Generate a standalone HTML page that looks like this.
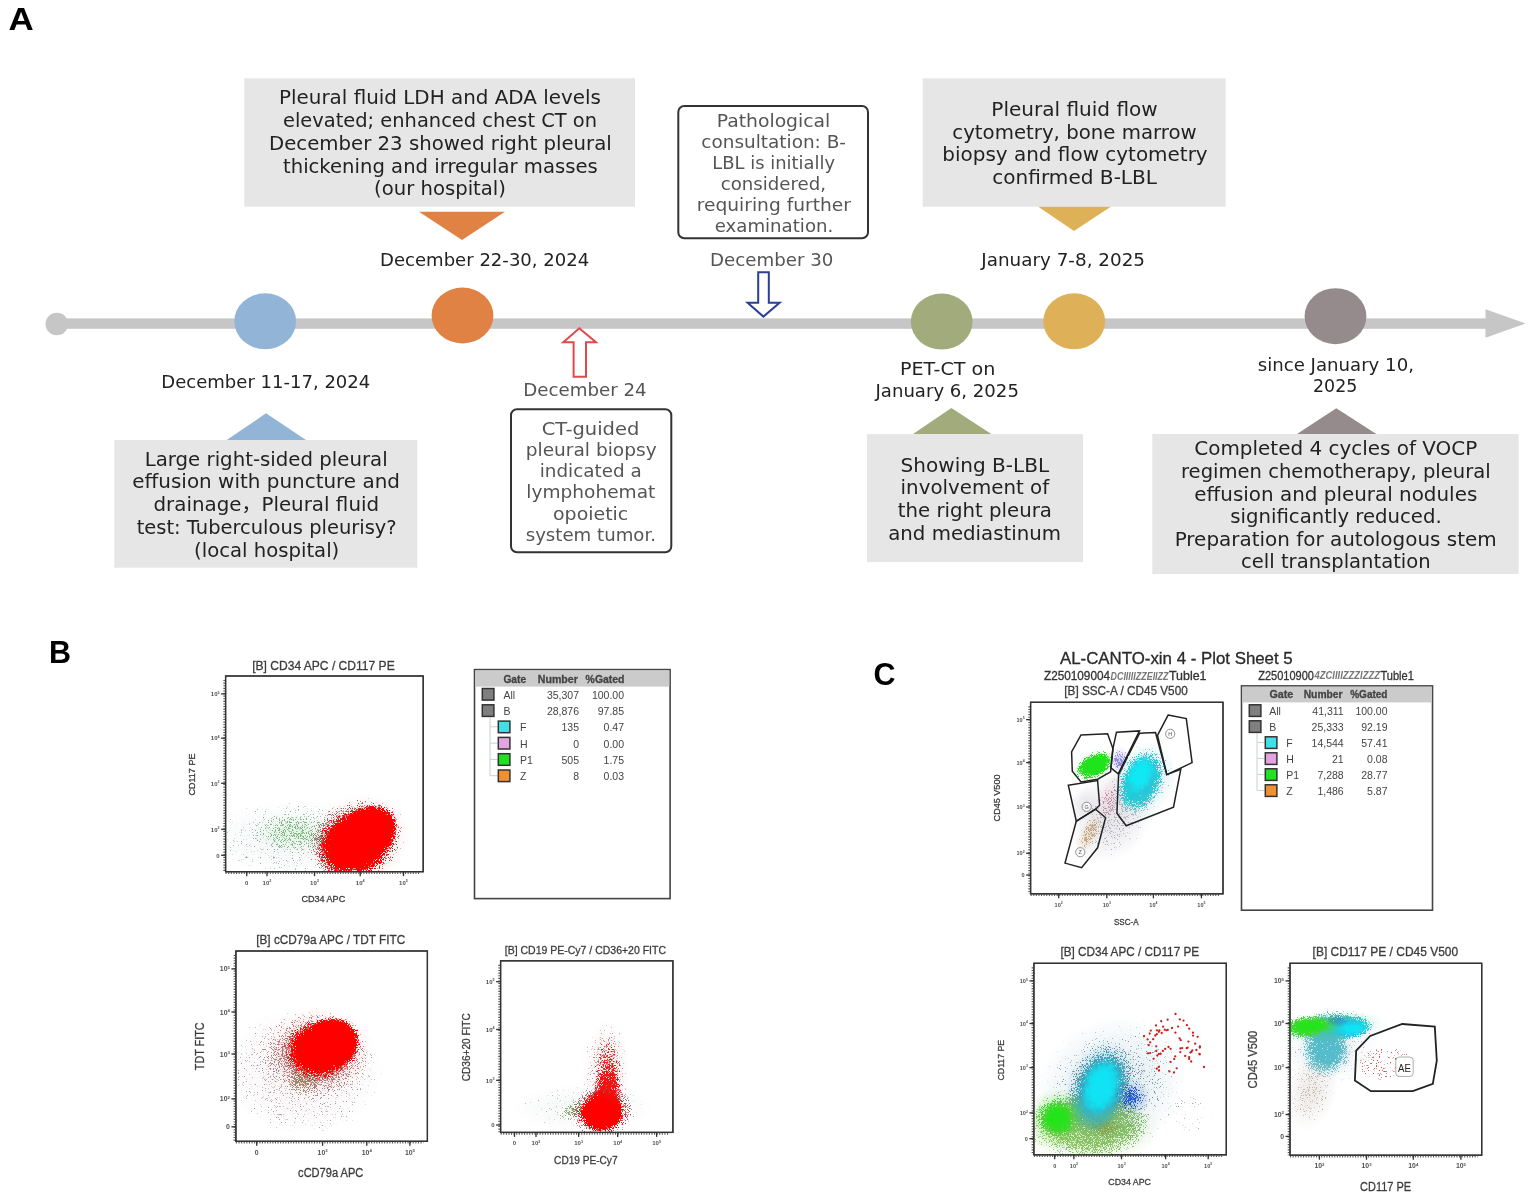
<!DOCTYPE html>
<html lang="en"><head><meta charset="utf-8"><title>Figure</title>
<style>
html,body{margin:0;padding:0;background:#fff}
svg{display:block;font-family:'DejaVu Sans','Liberation Sans','Noto Sans CJK SC',sans-serif;filter:blur(0.3px)}
</style></head><body>
<svg width="1535" height="1202" viewBox="0 0 1535 1202">
<defs>
<radialGradient id="g0"><stop offset="0" stop-color="#d0d8dc" stop-opacity="0.440"/><stop offset="0.3" stop-color="#d0d8dc" stop-opacity="0.440"/><stop offset="0.7" stop-color="#d0d8dc" stop-opacity="0.220"/><stop offset="1" stop-color="#d0d8dc" stop-opacity="0"/></radialGradient>
<radialGradient id="g1"><stop offset="0" stop-color="#a8dca8" stop-opacity="0.440"/><stop offset="0.3" stop-color="#a8dca8" stop-opacity="0.440"/><stop offset="0.7" stop-color="#a8dca8" stop-opacity="0.220"/><stop offset="1" stop-color="#a8dca8" stop-opacity="0"/></radialGradient>
<radialGradient id="g2"><stop offset="0" stop-color="#f0a8a8" stop-opacity="0.495"/><stop offset="0.6" stop-color="#f0a8a8" stop-opacity="0.495"/><stop offset="0.8" stop-color="#f0a8a8" stop-opacity="0.248"/><stop offset="1" stop-color="#f0a8a8" stop-opacity="0"/></radialGradient>
<radialGradient id="g3"><stop offset="0" stop-color="#9aa4ac" stop-opacity="0.110"/><stop offset="0.5" stop-color="#9aa4ac" stop-opacity="0.110"/><stop offset="0.8" stop-color="#9aa4ac" stop-opacity="0.088"/><stop offset="1" stop-color="#9aa4ac" stop-opacity="0"/></radialGradient>
<radialGradient id="g4"><stop offset="0" stop-color="#5fbf5f" stop-opacity="0.149"/><stop offset="0.3" stop-color="#5fbf5f" stop-opacity="0.149"/><stop offset="0.72" stop-color="#5fbf5f" stop-opacity="0.074"/><stop offset="1" stop-color="#5fbf5f" stop-opacity="0"/></radialGradient>
<radialGradient id="g5"><stop offset="0" stop-color="#8a3838" stop-opacity="0.198"/><stop offset="0.55" stop-color="#8a3838" stop-opacity="0.198"/><stop offset="0.8" stop-color="#8a3838" stop-opacity="0.158"/><stop offset="1" stop-color="#8a3838" stop-opacity="0"/></radialGradient>
<radialGradient id="g6"><stop offset="0" stop-color="#ff0000"/><stop offset="0.6" stop-color="#ff0000"/><stop offset="0.601" stop-color="#ff0000" stop-opacity="0.5"/><stop offset="0.8" stop-color="#ff0000" stop-opacity="0.250"/><stop offset="1" stop-color="#ff0000" stop-opacity="0"/></radialGradient>
<radialGradient id="g7"><stop offset="0" stop-color="#d8c4c8" stop-opacity="0.495"/><stop offset="0.2" stop-color="#d8c4c8" stop-opacity="0.495"/><stop offset="0.6" stop-color="#d8c4c8" stop-opacity="0.248"/><stop offset="1" stop-color="#d8c4c8" stop-opacity="0"/></radialGradient>
<radialGradient id="g8"><stop offset="0" stop-color="#f0a0a0" stop-opacity="0.495"/><stop offset="0.5" stop-color="#f0a0a0" stop-opacity="0.495"/><stop offset="0.75" stop-color="#f0a0a0" stop-opacity="0.248"/><stop offset="1" stop-color="#f0a0a0" stop-opacity="0"/></radialGradient>
<radialGradient id="g9"><stop offset="0" stop-color="#a8989c" stop-opacity="0.138"/><stop offset="0.4" stop-color="#a8989c" stop-opacity="0.138"/><stop offset="0.8" stop-color="#a8989c" stop-opacity="0.096"/><stop offset="1" stop-color="#a8989c" stop-opacity="0"/></radialGradient>
<radialGradient id="g10"><stop offset="0" stop-color="#b85858" stop-opacity="0.193"/><stop offset="0.5" stop-color="#b85858" stop-opacity="0.193"/><stop offset="0.72" stop-color="#b85858" stop-opacity="0.096"/><stop offset="1" stop-color="#b85858" stop-opacity="0"/></radialGradient>
<radialGradient id="g11"><stop offset="0" stop-color="#7a9440" stop-opacity="0.110"/><stop offset="0.3" stop-color="#7a9440" stop-opacity="0.110"/><stop offset="0.72" stop-color="#7a9440" stop-opacity="0.055"/><stop offset="1" stop-color="#7a9440" stop-opacity="0"/></radialGradient>
<radialGradient id="g12"><stop offset="0" stop-color="#ff0000"/><stop offset="0.58" stop-color="#ff0000"/><stop offset="0.581" stop-color="#ff0000" stop-opacity="0.5"/><stop offset="0.8" stop-color="#ff0000" stop-opacity="0.250"/><stop offset="1" stop-color="#ff0000" stop-opacity="0"/></radialGradient>
<radialGradient id="g13"><stop offset="0" stop-color="#d4d8dc" stop-opacity="0.440"/><stop offset="0.3" stop-color="#d4d8dc" stop-opacity="0.440"/><stop offset="0.7" stop-color="#d4d8dc" stop-opacity="0.220"/><stop offset="1" stop-color="#d4d8dc" stop-opacity="0"/></radialGradient>
<radialGradient id="g14"><stop offset="0" stop-color="#e8b8b8" stop-opacity="0.495"/><stop offset="0.4" stop-color="#e8b8b8" stop-opacity="0.495"/><stop offset="0.7" stop-color="#e8b8b8" stop-opacity="0.248"/><stop offset="1" stop-color="#e8b8b8" stop-opacity="0"/></radialGradient>
<radialGradient id="g15"><stop offset="0" stop-color="#a4a8b0" stop-opacity="0.088"/><stop offset="0.4" stop-color="#a4a8b0" stop-opacity="0.088"/><stop offset="0.8" stop-color="#a4a8b0" stop-opacity="0.062"/><stop offset="1" stop-color="#a4a8b0" stop-opacity="0"/></radialGradient>
<radialGradient id="g16"><stop offset="0" stop-color="#a88c8c" stop-opacity="0.187"/><stop offset="0.45" stop-color="#a88c8c" stop-opacity="0.187"/><stop offset="0.72" stop-color="#a88c8c" stop-opacity="0.094"/><stop offset="1" stop-color="#a88c8c" stop-opacity="0"/></radialGradient>
<radialGradient id="g17"><stop offset="0" stop-color="#70a850" stop-opacity="0.165"/><stop offset="0.3" stop-color="#70a850" stop-opacity="0.165"/><stop offset="0.72" stop-color="#70a850" stop-opacity="0.083"/><stop offset="1" stop-color="#70a850" stop-opacity="0"/></radialGradient>
<radialGradient id="g18"><stop offset="0" stop-color="#903030" stop-opacity="0.165"/><stop offset="0.55" stop-color="#903030" stop-opacity="0.165"/><stop offset="0.8" stop-color="#903030" stop-opacity="0.132"/><stop offset="1" stop-color="#903030" stop-opacity="0"/></radialGradient>
<radialGradient id="g19"><stop offset="0" stop-color="#f01818" stop-opacity="0.286"/><stop offset="0.35" stop-color="#f01818" stop-opacity="0.286"/><stop offset="0.72" stop-color="#f01818" stop-opacity="0.129"/><stop offset="1" stop-color="#f01818" stop-opacity="0"/></radialGradient>
<radialGradient id="g20"><stop offset="0" stop-color="#fa0808" stop-opacity="0.231"/><stop offset="0.5" stop-color="#fa0808" stop-opacity="0.231"/><stop offset="0.8" stop-color="#fa0808" stop-opacity="0.127"/><stop offset="1" stop-color="#fa0808" stop-opacity="0"/></radialGradient>
<radialGradient id="g21"><stop offset="0" stop-color="#b8b8c8" stop-opacity="0.544"/><stop offset="0.25" stop-color="#b8b8c8" stop-opacity="0.544"/><stop offset="0.65" stop-color="#b8b8c8" stop-opacity="0.272"/><stop offset="1" stop-color="#b8b8c8" stop-opacity="0"/></radialGradient>
<radialGradient id="g22"><stop offset="0" stop-color="#c4c4cc" stop-opacity="0.440"/><stop offset="0.3" stop-color="#c4c4cc" stop-opacity="0.440"/><stop offset="0.7" stop-color="#c4c4cc" stop-opacity="0.220"/><stop offset="1" stop-color="#c4c4cc" stop-opacity="0"/></radialGradient>
<radialGradient id="g23"><stop offset="0" stop-color="#70c8d4" stop-opacity="0.544"/><stop offset="0.3" stop-color="#70c8d4" stop-opacity="0.544"/><stop offset="0.65" stop-color="#70c8d4" stop-opacity="0.272"/><stop offset="1" stop-color="#70c8d4" stop-opacity="0"/></radialGradient>
<radialGradient id="g24"><stop offset="0" stop-color="#d8b890" stop-opacity="0.544"/><stop offset="0.3" stop-color="#d8b890" stop-opacity="0.544"/><stop offset="0.65" stop-color="#d8b890" stop-opacity="0.272"/><stop offset="1" stop-color="#d8b890" stop-opacity="0"/></radialGradient>
<radialGradient id="g25"><stop offset="0" stop-color="#e8a8b8" stop-opacity="0.385"/><stop offset="0.3" stop-color="#e8a8b8" stop-opacity="0.385"/><stop offset="0.65" stop-color="#e8a8b8" stop-opacity="0.193"/><stop offset="1" stop-color="#e8a8b8" stop-opacity="0"/></radialGradient>
<radialGradient id="g26"><stop offset="0" stop-color="#a8a0e8" stop-opacity="0.544"/><stop offset="0.3" stop-color="#a8a0e8" stop-opacity="0.544"/><stop offset="0.65" stop-color="#a8a0e8" stop-opacity="0.272"/><stop offset="1" stop-color="#a8a0e8" stop-opacity="0"/></radialGradient>
<radialGradient id="g27"><stop offset="0" stop-color="#60e060" stop-opacity="0.495"/><stop offset="0.3" stop-color="#60e060" stop-opacity="0.495"/><stop offset="0.65" stop-color="#60e060" stop-opacity="0.248"/><stop offset="1" stop-color="#60e060" stop-opacity="0"/></radialGradient>
<radialGradient id="g28"><stop offset="0" stop-color="#b0b0b8" stop-opacity="0.198"/><stop offset="0.3" stop-color="#b0b0b8" stop-opacity="0.198"/><stop offset="0.7" stop-color="#b0b0b8" stop-opacity="0.099"/><stop offset="1" stop-color="#b0b0b8" stop-opacity="0"/></radialGradient>
<radialGradient id="g29"><stop offset="0" stop-color="#78b8c4" stop-opacity="0.242"/><stop offset="0.45" stop-color="#78b8c4" stop-opacity="0.242"/><stop offset="0.72" stop-color="#78b8c4" stop-opacity="0.121"/><stop offset="1" stop-color="#78b8c4" stop-opacity="0"/></radialGradient>
<radialGradient id="g30"><stop offset="0" stop-color="#c84868" stop-opacity="0.072"/><stop offset="0.5" stop-color="#c84868" stop-opacity="0.072"/><stop offset="0.72" stop-color="#c84868" stop-opacity="0.036"/><stop offset="1" stop-color="#c84868" stop-opacity="0"/></radialGradient>
<radialGradient id="g31"><stop offset="0" stop-color="#c8a070" stop-opacity="0.209"/><stop offset="0.4" stop-color="#c8a070" stop-opacity="0.209"/><stop offset="0.72" stop-color="#c8a070" stop-opacity="0.105"/><stop offset="1" stop-color="#c8a070" stop-opacity="0"/></radialGradient>
<radialGradient id="g32"><stop offset="0" stop-color="#9088e0" stop-opacity="0.303"/><stop offset="0.35" stop-color="#9088e0" stop-opacity="0.303"/><stop offset="0.72" stop-color="#9088e0" stop-opacity="0.151"/><stop offset="1" stop-color="#9088e0" stop-opacity="0"/></radialGradient>
<radialGradient id="g33"><stop offset="0" stop-color="#28c8d8" stop-opacity="0.522"/><stop offset="0.45" stop-color="#28c8d8" stop-opacity="0.522"/><stop offset="0.75" stop-color="#28c8d8" stop-opacity="0.261"/><stop offset="1" stop-color="#28c8d8" stop-opacity="0"/></radialGradient>
<radialGradient id="g34"><stop offset="0" stop-color="#30d82c" stop-opacity="0.522"/><stop offset="0.45" stop-color="#30d82c" stop-opacity="0.522"/><stop offset="0.78" stop-color="#30d82c" stop-opacity="0.261"/><stop offset="1" stop-color="#30d82c" stop-opacity="0"/></radialGradient>
<radialGradient id="g35"><stop offset="0" stop-color="#10e8f4"/><stop offset="0.35" stop-color="#10e8f4"/><stop offset="0.351" stop-color="#10e8f4" stop-opacity="0.5"/><stop offset="0.7" stop-color="#10e8f4" stop-opacity="0.250"/><stop offset="1" stop-color="#10e8f4" stop-opacity="0"/></radialGradient>
<radialGradient id="g36"><stop offset="0" stop-color="#1ee41a"/><stop offset="0.5" stop-color="#1ee41a"/><stop offset="0.501" stop-color="#1ee41a" stop-opacity="0.5"/><stop offset="0.8" stop-color="#1ee41a" stop-opacity="0.250"/><stop offset="1" stop-color="#1ee41a" stop-opacity="0"/></radialGradient>
<radialGradient id="g37"><stop offset="0" stop-color="#88b0c0" stop-opacity="0.440"/><stop offset="0.2" stop-color="#88b0c0" stop-opacity="0.440"/><stop offset="0.6" stop-color="#88b0c0" stop-opacity="0.220"/><stop offset="1" stop-color="#88b0c0" stop-opacity="0"/></radialGradient>
<radialGradient id="g38"><stop offset="0" stop-color="#a4d880" stop-opacity="0.544"/><stop offset="0.4" stop-color="#a4d880" stop-opacity="0.544"/><stop offset="0.7" stop-color="#a4d880" stop-opacity="0.272"/><stop offset="1" stop-color="#a4d880" stop-opacity="0"/></radialGradient>
<radialGradient id="g39"><stop offset="0" stop-color="#50b8d0" stop-opacity="0.544"/><stop offset="0.4" stop-color="#50b8d0" stop-opacity="0.544"/><stop offset="0.7" stop-color="#50b8d0" stop-opacity="0.272"/><stop offset="1" stop-color="#50b8d0" stop-opacity="0"/></radialGradient>
<radialGradient id="g40"><stop offset="0" stop-color="#60e048" stop-opacity="0.544"/><stop offset="0.4" stop-color="#60e048" stop-opacity="0.544"/><stop offset="0.7" stop-color="#60e048" stop-opacity="0.272"/><stop offset="1" stop-color="#60e048" stop-opacity="0"/></radialGradient>
<radialGradient id="g41"><stop offset="0" stop-color="#5080e0" stop-opacity="0.544"/><stop offset="0.3" stop-color="#5080e0" stop-opacity="0.544"/><stop offset="0.65" stop-color="#5080e0" stop-opacity="0.272"/><stop offset="1" stop-color="#5080e0" stop-opacity="0"/></radialGradient>
<radialGradient id="g42"><stop offset="0" stop-color="#6090a4" stop-opacity="0.187"/><stop offset="0.3" stop-color="#6090a4" stop-opacity="0.187"/><stop offset="0.7" stop-color="#6090a4" stop-opacity="0.094"/><stop offset="1" stop-color="#6090a4" stop-opacity="0"/></radialGradient>
<radialGradient id="g43"><stop offset="0" stop-color="#a0a8b0" stop-opacity="0.088"/><stop offset="0.5" stop-color="#a0a8b0" stop-opacity="0.088"/><stop offset="0.72" stop-color="#a0a8b0" stop-opacity="0.044"/><stop offset="1" stop-color="#a0a8b0" stop-opacity="0"/></radialGradient>
<radialGradient id="g44"><stop offset="0" stop-color="#8cc858" stop-opacity="0.330"/><stop offset="0.5" stop-color="#8cc858" stop-opacity="0.330"/><stop offset="0.8" stop-color="#8cc858" stop-opacity="0.165"/><stop offset="1" stop-color="#8cc858" stop-opacity="0"/></radialGradient>
<radialGradient id="g45"><stop offset="0" stop-color="#3c98b0" stop-opacity="0.303"/><stop offset="0.5" stop-color="#3c98b0" stop-opacity="0.303"/><stop offset="0.72" stop-color="#3c98b0" stop-opacity="0.151"/><stop offset="1" stop-color="#3c98b0" stop-opacity="0"/></radialGradient>
<radialGradient id="g46"><stop offset="0" stop-color="#8c9c48" stop-opacity="0.275"/><stop offset="0.3" stop-color="#8c9c48" stop-opacity="0.275"/><stop offset="0.72" stop-color="#8c9c48" stop-opacity="0.138"/><stop offset="1" stop-color="#8c9c48" stop-opacity="0"/></radialGradient>
<radialGradient id="g47"><stop offset="0" stop-color="#48d434" stop-opacity="0.468"/><stop offset="0.35" stop-color="#48d434" stop-opacity="0.468"/><stop offset="0.7" stop-color="#48d434" stop-opacity="0.234"/><stop offset="1" stop-color="#48d434" stop-opacity="0"/></radialGradient>
<radialGradient id="g48"><stop offset="0" stop-color="#28b8d0" stop-opacity="0.495"/><stop offset="0.4" stop-color="#28b8d0" stop-opacity="0.495"/><stop offset="0.75" stop-color="#28b8d0" stop-opacity="0.248"/><stop offset="1" stop-color="#28b8d0" stop-opacity="0"/></radialGradient>
<radialGradient id="g49"><stop offset="0" stop-color="#2058d0" stop-opacity="0.341"/><stop offset="0.25" stop-color="#2058d0" stop-opacity="0.341"/><stop offset="0.6" stop-color="#2058d0" stop-opacity="0.171"/><stop offset="1" stop-color="#2058d0" stop-opacity="0"/></radialGradient>
<radialGradient id="g50"><stop offset="0" stop-color="#22e418"/><stop offset="0.3" stop-color="#22e418"/><stop offset="0.301" stop-color="#22e418" stop-opacity="0.5"/><stop offset="0.7" stop-color="#22e418" stop-opacity="0.250"/><stop offset="1" stop-color="#22e418" stop-opacity="0"/></radialGradient>
<radialGradient id="g51"><stop offset="0" stop-color="#10e4f4"/><stop offset="0.4" stop-color="#10e4f4"/><stop offset="0.401" stop-color="#10e4f4" stop-opacity="0.5"/><stop offset="0.75" stop-color="#10e4f4" stop-opacity="0.250"/><stop offset="1" stop-color="#10e4f4" stop-opacity="0"/></radialGradient>
<radialGradient id="g52"><stop offset="0" stop-color="#d0c8c0" stop-opacity="0.544"/><stop offset="0.2" stop-color="#d0c8c0" stop-opacity="0.544"/><stop offset="0.6" stop-color="#d0c8c0" stop-opacity="0.272"/><stop offset="1" stop-color="#d0c8c0" stop-opacity="0"/></radialGradient>
<radialGradient id="g53"><stop offset="0" stop-color="#b8c8d0" stop-opacity="0.385"/><stop offset="0.2" stop-color="#b8c8d0" stop-opacity="0.385"/><stop offset="0.6" stop-color="#b8c8d0" stop-opacity="0.193"/><stop offset="1" stop-color="#b8c8d0" stop-opacity="0"/></radialGradient>
<radialGradient id="g54"><stop offset="0" stop-color="#60c4d4" stop-opacity="0.544"/><stop offset="0.3" stop-color="#60c4d4" stop-opacity="0.544"/><stop offset="0.65" stop-color="#60c4d4" stop-opacity="0.272"/><stop offset="1" stop-color="#60c4d4" stop-opacity="0"/></radialGradient>
<radialGradient id="g55"><stop offset="0" stop-color="#60d8b0" stop-opacity="0.544"/><stop offset="0.5" stop-color="#60d8b0" stop-opacity="0.544"/><stop offset="0.75" stop-color="#60d8b0" stop-opacity="0.272"/><stop offset="1" stop-color="#60d8b0" stop-opacity="0"/></radialGradient>
<radialGradient id="g56"><stop offset="0" stop-color="#c4b8ac" stop-opacity="0.187"/><stop offset="0.3" stop-color="#c4b8ac" stop-opacity="0.187"/><stop offset="0.72" stop-color="#c4b8ac" stop-opacity="0.094"/><stop offset="1" stop-color="#c4b8ac" stop-opacity="0"/></radialGradient>
<radialGradient id="g57"><stop offset="0" stop-color="#a8b8c0" stop-opacity="0.143"/><stop offset="0.4" stop-color="#a8b8c0" stop-opacity="0.143"/><stop offset="0.72" stop-color="#a8b8c0" stop-opacity="0.072"/><stop offset="1" stop-color="#a8b8c0" stop-opacity="0"/></radialGradient>
<radialGradient id="g58"><stop offset="0" stop-color="#c85058" stop-opacity="0.132"/><stop offset="0.7" stop-color="#c85058" stop-opacity="0.132"/><stop offset="0.9" stop-color="#c85058" stop-opacity="0.106"/><stop offset="1" stop-color="#c85058" stop-opacity="0"/></radialGradient>
<radialGradient id="g59"><stop offset="0" stop-color="#40bccc" stop-opacity="0.385"/><stop offset="0.4" stop-color="#40bccc" stop-opacity="0.385"/><stop offset="0.72" stop-color="#40bccc" stop-opacity="0.193"/><stop offset="1" stop-color="#40bccc" stop-opacity="0"/></radialGradient>
<radialGradient id="g60"><stop offset="0" stop-color="#40c0b0" stop-opacity="0.385"/><stop offset="0.5" stop-color="#40c0b0" stop-opacity="0.385"/><stop offset="0.72" stop-color="#40c0b0" stop-opacity="0.193"/><stop offset="1" stop-color="#40c0b0" stop-opacity="0"/></radialGradient>
<radialGradient id="g61"><stop offset="0" stop-color="#20c8e0" stop-opacity="0.495"/><stop offset="0.35" stop-color="#20c8e0" stop-opacity="0.495"/><stop offset="0.7" stop-color="#20c8e0" stop-opacity="0.248"/><stop offset="1" stop-color="#20c8e0" stop-opacity="0"/></radialGradient>
<radialGradient id="g62"><stop offset="0" stop-color="#44d834" stop-opacity="0.495"/><stop offset="0.35" stop-color="#44d834" stop-opacity="0.495"/><stop offset="0.7" stop-color="#44d834" stop-opacity="0.248"/><stop offset="1" stop-color="#44d834" stop-opacity="0"/></radialGradient>
<radialGradient id="g63"><stop offset="0" stop-color="#3878c0" stop-opacity="0.248"/><stop offset="0.3" stop-color="#3878c0" stop-opacity="0.248"/><stop offset="0.72" stop-color="#3878c0" stop-opacity="0.124"/><stop offset="1" stop-color="#3878c0" stop-opacity="0"/></radialGradient>
<radialGradient id="g64"><stop offset="0" stop-color="#10e4f4"/><stop offset="0.25" stop-color="#10e4f4"/><stop offset="0.251" stop-color="#10e4f4" stop-opacity="0.5"/><stop offset="0.65" stop-color="#10e4f4" stop-opacity="0.250"/><stop offset="1" stop-color="#10e4f4" stop-opacity="0"/></radialGradient>
<radialGradient id="g65"><stop offset="0" stop-color="#22e418"/><stop offset="0.3" stop-color="#22e418"/><stop offset="0.301" stop-color="#22e418" stop-opacity="0.5"/><stop offset="0.68" stop-color="#22e418" stop-opacity="0.250"/><stop offset="1" stop-color="#22e418" stop-opacity="0"/></radialGradient>
<filter id="f0" filterUnits="userSpaceOnUse" x="225.6" y="676" width="197.6" height="195.7" color-interpolation-filters="sRGB">
<feTurbulence type="fractalNoise" baseFrequency="1.37" numOctaves="1" seed="3" result="n"/>
<feColorMatrix in="n" type="matrix" values="0 0 0 0 0 0 0 0 0 0 0 0 0 0 0 0 0 0 1.9 -0.45" result="na"/>
<feColorMatrix in="SourceGraphic" type="matrix" values="0 0 0 0 0 0 0 0 0 0 0 0 0 0 0 0 0 0 1 0" result="sa"/>
<feComposite in="sa" in2="na" operator="arithmetic" k1="0" k2="2" k3="1" k4="-1" result="m0"/>
<feComponentTransfer in="m0" result="m"><feFuncA type="linear" slope="6" intercept="0"/></feComponentTransfer>
<feColorMatrix in="SourceGraphic" type="matrix" values="1 0 0 0 0 0 1 0 0 0 0 0 1 0 0 0 0 0 255 0" result="op"/>
<feComposite in="op" in2="m" operator="in"/>
<feGaussianBlur stdDeviation="0.4"/>
</filter>
<filter id="f1" filterUnits="userSpaceOnUse" x="225.6" y="676" width="197.6" height="195.7" color-interpolation-filters="sRGB">
<feTurbulence type="fractalNoise" baseFrequency="1.37" numOctaves="1" seed="4" result="n"/>
<feColorMatrix in="n" type="matrix" values="0 0 0 0 0 0 0 0 0 0 0 0 0 0 0 0 0 0 1.9 -0.45" result="na"/>
<feColorMatrix in="SourceGraphic" type="matrix" values="0 0 0 0 0 0 0 0 0 0 0 0 0 0 0 0 0 0 1 0" result="sa"/>
<feComposite in="sa" in2="na" operator="arithmetic" k1="0" k2="2" k3="1" k4="-1" result="m0"/>
<feComponentTransfer in="m0" result="m"><feFuncA type="linear" slope="6" intercept="0"/></feComponentTransfer>
<feColorMatrix in="SourceGraphic" type="matrix" values="1 0 0 0 0 0 1 0 0 0 0 0 1 0 0 0 0 0 255 0" result="op"/>
<feComposite in="op" in2="m" operator="in"/>
<feGaussianBlur stdDeviation="0.4"/>
</filter>
<filter id="f2" filterUnits="userSpaceOnUse" x="235.9" y="951" width="191.5" height="190.3" color-interpolation-filters="sRGB">
<feTurbulence type="fractalNoise" baseFrequency="1.37" numOctaves="1" seed="5" result="n"/>
<feColorMatrix in="n" type="matrix" values="0 0 0 0 0 0 0 0 0 0 0 0 0 0 0 0 0 0 1.9 -0.45" result="na"/>
<feColorMatrix in="SourceGraphic" type="matrix" values="0 0 0 0 0 0 0 0 0 0 0 0 0 0 0 0 0 0 1 0" result="sa"/>
<feComposite in="sa" in2="na" operator="arithmetic" k1="0" k2="2" k3="1" k4="-1" result="m0"/>
<feComponentTransfer in="m0" result="m"><feFuncA type="linear" slope="6" intercept="0"/></feComponentTransfer>
<feColorMatrix in="SourceGraphic" type="matrix" values="1 0 0 0 0 0 1 0 0 0 0 0 1 0 0 0 0 0 255 0" result="op"/>
<feComposite in="op" in2="m" operator="in"/>
<feGaussianBlur stdDeviation="0.4"/>
</filter>
<filter id="f3" filterUnits="userSpaceOnUse" x="235.9" y="951" width="191.5" height="190.3" color-interpolation-filters="sRGB">
<feTurbulence type="fractalNoise" baseFrequency="1.37" numOctaves="1" seed="6" result="n"/>
<feColorMatrix in="n" type="matrix" values="0 0 0 0 0 0 0 0 0 0 0 0 0 0 0 0 0 0 1.9 -0.45" result="na"/>
<feColorMatrix in="SourceGraphic" type="matrix" values="0 0 0 0 0 0 0 0 0 0 0 0 0 0 0 0 0 0 1 0" result="sa"/>
<feComposite in="sa" in2="na" operator="arithmetic" k1="0" k2="2" k3="1" k4="-1" result="m0"/>
<feComponentTransfer in="m0" result="m"><feFuncA type="linear" slope="6" intercept="0"/></feComponentTransfer>
<feColorMatrix in="SourceGraphic" type="matrix" values="1 0 0 0 0 0 1 0 0 0 0 0 1 0 0 0 0 0 255 0" result="op"/>
<feComposite in="op" in2="m" operator="in"/>
<feGaussianBlur stdDeviation="0.4"/>
</filter>
<filter id="f4" filterUnits="userSpaceOnUse" x="500.6" y="960.8" width="172.3" height="171.6" color-interpolation-filters="sRGB">
<feTurbulence type="fractalNoise" baseFrequency="1.37" numOctaves="1" seed="9" result="n"/>
<feColorMatrix in="n" type="matrix" values="0 0 0 0 0 0 0 0 0 0 0 0 0 0 0 0 0 0 1.9 -0.45" result="na"/>
<feColorMatrix in="SourceGraphic" type="matrix" values="0 0 0 0 0 0 0 0 0 0 0 0 0 0 0 0 0 0 1 0" result="sa"/>
<feComposite in="sa" in2="na" operator="arithmetic" k1="0" k2="2" k3="1" k4="-1" result="m0"/>
<feComponentTransfer in="m0" result="m"><feFuncA type="linear" slope="6" intercept="0"/></feComponentTransfer>
<feColorMatrix in="SourceGraphic" type="matrix" values="1 0 0 0 0 0 1 0 0 0 0 0 1 0 0 0 0 0 255 0" result="op"/>
<feComposite in="op" in2="m" operator="in"/>
<feGaussianBlur stdDeviation="0.4"/>
</filter>
<filter id="f5" filterUnits="userSpaceOnUse" x="500.6" y="960.8" width="172.3" height="171.6" color-interpolation-filters="sRGB">
<feTurbulence type="fractalNoise" baseFrequency="1.37" numOctaves="1" seed="10" result="n"/>
<feColorMatrix in="n" type="matrix" values="0 0 0 0 0 0 0 0 0 0 0 0 0 0 0 0 0 0 1.9 -0.45" result="na"/>
<feColorMatrix in="SourceGraphic" type="matrix" values="0 0 0 0 0 0 0 0 0 0 0 0 0 0 0 0 0 0 1 0" result="sa"/>
<feComposite in="sa" in2="na" operator="arithmetic" k1="0" k2="2" k3="1" k4="-1" result="m0"/>
<feComponentTransfer in="m0" result="m"><feFuncA type="linear" slope="6" intercept="0"/></feComponentTransfer>
<feColorMatrix in="SourceGraphic" type="matrix" values="1 0 0 0 0 0 1 0 0 0 0 0 1 0 0 0 0 0 255 0" result="op"/>
<feComposite in="op" in2="m" operator="in"/>
<feGaussianBlur stdDeviation="0.4"/>
</filter>
<filter id="f6" filterUnits="userSpaceOnUse" x="1030.6" y="702.3" width="192.4" height="191.5" color-interpolation-filters="sRGB">
<feTurbulence type="fractalNoise" baseFrequency="1.37" numOctaves="1" seed="11" result="n"/>
<feColorMatrix in="n" type="matrix" values="0 0 0 0 0 0 0 0 0 0 0 0 0 0 0 0 0 0 1.9 -0.45" result="na"/>
<feColorMatrix in="SourceGraphic" type="matrix" values="0 0 0 0 0 0 0 0 0 0 0 0 0 0 0 0 0 0 1 0" result="sa"/>
<feComposite in="sa" in2="na" operator="arithmetic" k1="0" k2="2" k3="1" k4="-1" result="m0"/>
<feComponentTransfer in="m0" result="m"><feFuncA type="linear" slope="6" intercept="0"/></feComponentTransfer>
<feColorMatrix in="SourceGraphic" type="matrix" values="1 0 0 0 0 0 1 0 0 0 0 0 1 0 0 0 0 0 255 0" result="op"/>
<feComposite in="op" in2="m" operator="in"/>
<feGaussianBlur stdDeviation="0.5"/>
</filter>
<filter id="f7" filterUnits="userSpaceOnUse" x="1030.6" y="702.3" width="192.4" height="191.5" color-interpolation-filters="sRGB">
<feTurbulence type="fractalNoise" baseFrequency="1.37" numOctaves="1" seed="12" result="n"/>
<feColorMatrix in="n" type="matrix" values="0 0 0 0 0 0 0 0 0 0 0 0 0 0 0 0 0 0 1.9 -0.45" result="na"/>
<feColorMatrix in="SourceGraphic" type="matrix" values="0 0 0 0 0 0 0 0 0 0 0 0 0 0 0 0 0 0 1 0" result="sa"/>
<feComposite in="sa" in2="na" operator="arithmetic" k1="0" k2="2" k3="1" k4="-1" result="m0"/>
<feComponentTransfer in="m0" result="m"><feFuncA type="linear" slope="6" intercept="0"/></feComponentTransfer>
<feColorMatrix in="SourceGraphic" type="matrix" values="1 0 0 0 0 0 1 0 0 0 0 0 1 0 0 0 0 0 255 0" result="op"/>
<feComposite in="op" in2="m" operator="in"/>
<feGaussianBlur stdDeviation="0.7"/>
</filter>
<filter id="f8" filterUnits="userSpaceOnUse" x="1030.6" y="702.3" width="192.4" height="191.5" color-interpolation-filters="sRGB">
<feTurbulence type="fractalNoise" baseFrequency="1.37" numOctaves="1" seed="19" result="n"/>
<feColorMatrix in="n" type="matrix" values="0 0 0 0 0 0 0 0 0 0 0 0 0 0 0 0 0 0 1.9 -0.45" result="na"/>
<feColorMatrix in="SourceGraphic" type="matrix" values="0 0 0 0 0 0 0 0 0 0 0 0 0 0 0 0 0 0 1 0" result="sa"/>
<feComposite in="sa" in2="na" operator="arithmetic" k1="0" k2="2" k3="1" k4="-1" result="m0"/>
<feComponentTransfer in="m0" result="m"><feFuncA type="linear" slope="6" intercept="0"/></feComponentTransfer>
<feColorMatrix in="SourceGraphic" type="matrix" values="1 0 0 0 0 0 1 0 0 0 0 0 1 0 0 0 0 0 255 0" result="op"/>
<feComposite in="op" in2="m" operator="in"/>
<feGaussianBlur stdDeviation="0.9"/>
</filter>
<filter id="f9" filterUnits="userSpaceOnUse" x="1033.9" y="963.3" width="192.4" height="191.5" color-interpolation-filters="sRGB">
<feTurbulence type="fractalNoise" baseFrequency="1.37" numOctaves="1" seed="13" result="n"/>
<feColorMatrix in="n" type="matrix" values="0 0 0 0 0 0 0 0 0 0 0 0 0 0 0 0 0 0 1.9 -0.45" result="na"/>
<feColorMatrix in="SourceGraphic" type="matrix" values="0 0 0 0 0 0 0 0 0 0 0 0 0 0 0 0 0 0 1 0" result="sa"/>
<feComposite in="sa" in2="na" operator="arithmetic" k1="0" k2="2" k3="1" k4="-1" result="m0"/>
<feComponentTransfer in="m0" result="m"><feFuncA type="linear" slope="6" intercept="0"/></feComponentTransfer>
<feColorMatrix in="SourceGraphic" type="matrix" values="1 0 0 0 0 0 1 0 0 0 0 0 1 0 0 0 0 0 255 0" result="op"/>
<feComposite in="op" in2="m" operator="in"/>
<feGaussianBlur stdDeviation="0.5"/>
</filter>
<filter id="f10" filterUnits="userSpaceOnUse" x="1033.9" y="963.3" width="192.4" height="191.5" color-interpolation-filters="sRGB">
<feTurbulence type="fractalNoise" baseFrequency="1.37" numOctaves="1" seed="14" result="n"/>
<feColorMatrix in="n" type="matrix" values="0 0 0 0 0 0 0 0 0 0 0 0 0 0 0 0 0 0 1.9 -0.45" result="na"/>
<feColorMatrix in="SourceGraphic" type="matrix" values="0 0 0 0 0 0 0 0 0 0 0 0 0 0 0 0 0 0 1 0" result="sa"/>
<feComposite in="sa" in2="na" operator="arithmetic" k1="0" k2="2" k3="1" k4="-1" result="m0"/>
<feComponentTransfer in="m0" result="m"><feFuncA type="linear" slope="6" intercept="0"/></feComponentTransfer>
<feColorMatrix in="SourceGraphic" type="matrix" values="1 0 0 0 0 0 1 0 0 0 0 0 1 0 0 0 0 0 255 0" result="op"/>
<feComposite in="op" in2="m" operator="in"/>
<feGaussianBlur stdDeviation="0.7"/>
</filter>
<filter id="f11" filterUnits="userSpaceOnUse" x="1033.9" y="963.3" width="192.4" height="191.5" color-interpolation-filters="sRGB">
<feTurbulence type="fractalNoise" baseFrequency="1.37" numOctaves="1" seed="15" result="n"/>
<feColorMatrix in="n" type="matrix" values="0 0 0 0 0 0 0 0 0 0 0 0 0 0 0 0 0 0 1.9 -0.45" result="na"/>
<feColorMatrix in="SourceGraphic" type="matrix" values="0 0 0 0 0 0 0 0 0 0 0 0 0 0 0 0 0 0 1 0" result="sa"/>
<feComposite in="sa" in2="na" operator="arithmetic" k1="0" k2="2" k3="1" k4="-1" result="m0"/>
<feComponentTransfer in="m0" result="m"><feFuncA type="linear" slope="6" intercept="0"/></feComponentTransfer>
<feColorMatrix in="SourceGraphic" type="matrix" values="1 0 0 0 0 0 1 0 0 0 0 0 1 0 0 0 0 0 255 0" result="op"/>
<feComposite in="op" in2="m" operator="in"/>
<feGaussianBlur stdDeviation="0.7"/>
</filter>
<filter id="f12" filterUnits="userSpaceOnUse" x="1033.9" y="963.3" width="192.4" height="191.5" color-interpolation-filters="sRGB">
<feTurbulence type="fractalNoise" baseFrequency="1.37" numOctaves="1" seed="20" result="n"/>
<feColorMatrix in="n" type="matrix" values="0 0 0 0 0 0 0 0 0 0 0 0 0 0 0 0 0 0 1.9 -0.45" result="na"/>
<feColorMatrix in="SourceGraphic" type="matrix" values="0 0 0 0 0 0 0 0 0 0 0 0 0 0 0 0 0 0 1 0" result="sa"/>
<feComposite in="sa" in2="na" operator="arithmetic" k1="0" k2="2" k3="1" k4="-1" result="m0"/>
<feComponentTransfer in="m0" result="m"><feFuncA type="linear" slope="6" intercept="0"/></feComponentTransfer>
<feColorMatrix in="SourceGraphic" type="matrix" values="1 0 0 0 0 0 1 0 0 0 0 0 1 0 0 0 0 0 255 0" result="op"/>
<feComposite in="op" in2="m" operator="in"/>
<feGaussianBlur stdDeviation="0.9"/>
</filter>
<filter id="f13" filterUnits="userSpaceOnUse" x="1290" y="963.3" width="191.7" height="191.9" color-interpolation-filters="sRGB">
<feTurbulence type="fractalNoise" baseFrequency="1.37" numOctaves="1" seed="17" result="n"/>
<feColorMatrix in="n" type="matrix" values="0 0 0 0 0 0 0 0 0 0 0 0 0 0 0 0 0 0 1.9 -0.45" result="na"/>
<feColorMatrix in="SourceGraphic" type="matrix" values="0 0 0 0 0 0 0 0 0 0 0 0 0 0 0 0 0 0 1 0" result="sa"/>
<feComposite in="sa" in2="na" operator="arithmetic" k1="0" k2="2" k3="1" k4="-1" result="m0"/>
<feComponentTransfer in="m0" result="m"><feFuncA type="linear" slope="6" intercept="0"/></feComponentTransfer>
<feColorMatrix in="SourceGraphic" type="matrix" values="1 0 0 0 0 0 1 0 0 0 0 0 1 0 0 0 0 0 255 0" result="op"/>
<feComposite in="op" in2="m" operator="in"/>
<feGaussianBlur stdDeviation="0.5"/>
</filter>
<filter id="f14" filterUnits="userSpaceOnUse" x="1290" y="963.3" width="191.7" height="191.9" color-interpolation-filters="sRGB">
<feTurbulence type="fractalNoise" baseFrequency="1.37" numOctaves="1" seed="18" result="n"/>
<feColorMatrix in="n" type="matrix" values="0 0 0 0 0 0 0 0 0 0 0 0 0 0 0 0 0 0 1.9 -0.45" result="na"/>
<feColorMatrix in="SourceGraphic" type="matrix" values="0 0 0 0 0 0 0 0 0 0 0 0 0 0 0 0 0 0 1 0" result="sa"/>
<feComposite in="sa" in2="na" operator="arithmetic" k1="0" k2="2" k3="1" k4="-1" result="m0"/>
<feComponentTransfer in="m0" result="m"><feFuncA type="linear" slope="6" intercept="0"/></feComponentTransfer>
<feColorMatrix in="SourceGraphic" type="matrix" values="1 0 0 0 0 0 1 0 0 0 0 0 1 0 0 0 0 0 255 0" result="op"/>
<feComposite in="op" in2="m" operator="in"/>
<feGaussianBlur stdDeviation="0.7"/>
</filter>
<filter id="f15" filterUnits="userSpaceOnUse" x="1290" y="963.3" width="191.7" height="191.9" color-interpolation-filters="sRGB">
<feTurbulence type="fractalNoise" baseFrequency="1.37" numOctaves="1" seed="21" result="n"/>
<feColorMatrix in="n" type="matrix" values="0 0 0 0 0 0 0 0 0 0 0 0 0 0 0 0 0 0 1.9 -0.45" result="na"/>
<feColorMatrix in="SourceGraphic" type="matrix" values="0 0 0 0 0 0 0 0 0 0 0 0 0 0 0 0 0 0 1 0" result="sa"/>
<feComposite in="sa" in2="na" operator="arithmetic" k1="0" k2="2" k3="1" k4="-1" result="m0"/>
<feComponentTransfer in="m0" result="m"><feFuncA type="linear" slope="6" intercept="0"/></feComponentTransfer>
<feColorMatrix in="SourceGraphic" type="matrix" values="1 0 0 0 0 0 1 0 0 0 0 0 1 0 0 0 0 0 255 0" result="op"/>
<feComposite in="op" in2="m" operator="in"/>
<feGaussianBlur stdDeviation="0.9"/>
</filter>
<clipPath id="c225_676"><rect x="225.6" y="676" width="197.6" height="195.7"/></clipPath>
<clipPath id="c235_951"><rect x="235.9" y="951" width="191.5" height="190.3"/></clipPath>
<clipPath id="c500_960"><rect x="500.6" y="960.8" width="172.3" height="171.6"/></clipPath>
<clipPath id="c1030_702"><rect x="1030.6" y="702.3" width="192.4" height="191.5"/></clipPath>
<clipPath id="c1033_963"><rect x="1033.9" y="963.3" width="192.4" height="191.5"/></clipPath>
<clipPath id="c1290_963"><rect x="1290" y="963.3" width="191.7" height="191.9"/></clipPath>
</defs>
<rect width="1535" height="1202" fill="#fff"/>
<g id="secA">
<text x="8.6" y="29.6" font-family="Liberation Sans,sans-serif" font-size="31.5" font-weight="bold" fill="#000" textLength="25.2" lengthAdjust="spacingAndGlyphs">A</text>
<rect x="57" y="318.4" width="1432" height="10.4" fill="#c6c6c6"/>
<circle cx="56.8" cy="324" r="11.3" fill="#c6c6c6"/>
<polygon points="1485.5,309.3 1525.7,323.5 1485.5,337.8" fill="#c6c6c6"/>
<ellipse cx="265.2" cy="321.3" rx="30.9" ry="28" fill="#92b4d6"/>
<ellipse cx="462.5" cy="315.5" rx="30.9" ry="28" fill="#df8244"/>
<ellipse cx="941.7" cy="321.6" rx="30.9" ry="28" fill="#a2ab7c"/>
<ellipse cx="1074.2" cy="321.3" rx="30.9" ry="28" fill="#deb058"/>
<ellipse cx="1335.5" cy="316.2" rx="30.9" ry="28" fill="#958b8c"/>
<rect x="244.3" y="78.3" width="390.7" height="128.4" fill="#e6e6e6"/>
<rect x="114.3" y="440" width="303.0" height="127.7" fill="#e6e6e6"/>
<rect x="922.7" y="78.3" width="303.0" height="128.4" fill="#e6e6e6"/>
<rect x="867" y="434.1" width="216.0" height="128.0" fill="#e6e6e6"/>
<rect x="1152.3" y="434" width="366.4" height="140.0" fill="#e6e6e6"/>
<polygon points="419,211.7 505,211.7 462,240" fill="#df8244"/>
<polygon points="226.7,440 306,440 266,413.3" fill="#92b4d6"/>
<polygon points="1038.3,206.7 1110.7,206.7 1074,231" fill="#deb058"/>
<polygon points="913,434.1 991.3,434.1 951.4,408" fill="#a2ab7c"/>
<polygon points="1297,434 1376.3,434 1336.3,408.3" fill="#958b8c"/>
<rect x="678.3" y="106" width="189.7" height="132.3" rx="6" fill="#fff" stroke="#333" stroke-width="2"/>
<rect x="511" y="409.3" width="160.3" height="143" rx="6" fill="#fff" stroke="#333" stroke-width="2"/>
<polygon points="579.3,328.3 596,342.3 586,342.3 586,376.8 573.6,376.8 573.6,342.3 563.3,342.3" fill="#fff" stroke="#de4a4c" stroke-width="2" stroke-linejoin="miter"/>
<polygon points="758.2,272.2 768.8,272.2 768.8,302.7 779.6,302.7 763.4,316.6 747.6,302.7 758.2,302.7" fill="#fff" stroke="#2a3f96" stroke-width="2" stroke-linejoin="miter"/>
<text x="279.0" y="104.3" font-size="19" fill="#222" textLength="322.0" lengthAdjust="spacingAndGlyphs">Pleural fluid LDH and ADA levels</text>
<text x="283.0" y="127.0" font-size="19" fill="#222" textLength="314.0" lengthAdjust="spacingAndGlyphs">elevated; enhanced chest CT on</text>
<text x="269.0" y="150.0" font-size="19" fill="#222" textLength="342.7" lengthAdjust="spacingAndGlyphs">December 23 showed right pleural</text>
<text x="283.0" y="172.7" font-size="19" fill="#222" textLength="314.7" lengthAdjust="spacingAndGlyphs">thickening and irregular masses</text>
<text x="374.0" y="195.3" font-size="19" fill="#222" textLength="132.0" lengthAdjust="spacingAndGlyphs">(our hospital)</text>
<text x="144.7" y="465.7" font-size="19" fill="#222" textLength="243.0" lengthAdjust="spacingAndGlyphs">Large right-sided pleural</text>
<text x="132.3" y="488.3" font-size="19" fill="#222" textLength="267.7" lengthAdjust="spacingAndGlyphs">effusion with puncture and</text>
<text x="136.7" y="534.0" font-size="19" fill="#222" textLength="260.0" lengthAdjust="spacingAndGlyphs">test: Tuberculous pleurisy?</text>
<text x="194.0" y="556.7" font-size="19" fill="#222" textLength="145.3" lengthAdjust="spacingAndGlyphs">(local hospital)</text>
<text x="161.3" y="387.7" font-size="18" fill="#222" textLength="209.0" lengthAdjust="spacingAndGlyphs">December 11-17, 2024</text>
<text x="380.0" y="266.0" font-size="18" fill="#222" textLength="209.3" lengthAdjust="spacingAndGlyphs">December 22-30, 2024</text>
<text x="523.3" y="396.0" font-size="17.6" fill="#555" textLength="123.4" lengthAdjust="spacingAndGlyphs">December 24</text>
<text x="710.0" y="265.7" font-size="17.6" fill="#555" textLength="123.3" lengthAdjust="spacingAndGlyphs">December 30</text>
<text x="899.9" y="375.4" font-size="18" fill="#222" textLength="95.5" lengthAdjust="spacingAndGlyphs">PET-CT on</text>
<text x="875.5" y="397.1" font-size="18" fill="#222" textLength="143.4" lengthAdjust="spacingAndGlyphs">January 6, 2025</text>
<text x="981.3" y="266.0" font-size="18" fill="#222" textLength="163.7" lengthAdjust="spacingAndGlyphs">January 7-8, 2025</text>
<text x="1257.7" y="370.7" font-size="18" fill="#222" textLength="156.3" lengthAdjust="spacingAndGlyphs">since January 10,</text>
<text x="1313.0" y="391.7" font-size="18" fill="#222" textLength="44.3" lengthAdjust="spacingAndGlyphs">2025</text>
<text x="541.7" y="435.0" font-size="17.6" fill="#555" textLength="97.6" lengthAdjust="spacingAndGlyphs">CT-guided</text>
<text x="525.7" y="456.0" font-size="17.6" fill="#555" textLength="131.0" lengthAdjust="spacingAndGlyphs">pleural biopsy</text>
<text x="539.7" y="477.3" font-size="17.6" fill="#555" textLength="102.0" lengthAdjust="spacingAndGlyphs">indicated a</text>
<text x="526.3" y="498.3" font-size="17.6" fill="#555" textLength="129.0" lengthAdjust="spacingAndGlyphs">lymphohemat</text>
<text x="553.0" y="520.0" font-size="17.6" fill="#555" textLength="75.3" lengthAdjust="spacingAndGlyphs">opoietic</text>
<text x="525.7" y="541.0" font-size="17.6" fill="#555" textLength="130.3" lengthAdjust="spacingAndGlyphs">system tumor.</text>
<text x="716.7" y="126.7" font-size="17.6" fill="#555" textLength="113.6" lengthAdjust="spacingAndGlyphs">Pathological</text>
<text x="701.3" y="147.7" font-size="17.6" fill="#555" textLength="144.7" lengthAdjust="spacingAndGlyphs">consultation: B-</text>
<text x="712.3" y="169.0" font-size="17.6" fill="#555" textLength="122.7" lengthAdjust="spacingAndGlyphs">LBL is initially</text>
<text x="720.7" y="190.0" font-size="17.6" fill="#555" textLength="105.3" lengthAdjust="spacingAndGlyphs">considered,</text>
<text x="696.7" y="211.0" font-size="17.6" fill="#555" textLength="154.3" lengthAdjust="spacingAndGlyphs">requiring further</text>
<text x="714.7" y="232.0" font-size="17.6" fill="#555" textLength="118.6" lengthAdjust="spacingAndGlyphs">examination.</text>
<text x="991.3" y="115.7" font-size="19" fill="#222" textLength="166.4" lengthAdjust="spacingAndGlyphs">Pleural fluid flow</text>
<text x="952.3" y="138.7" font-size="19" fill="#222" textLength="244.4" lengthAdjust="spacingAndGlyphs">cytometry, bone marrow</text>
<text x="942.3" y="161.0" font-size="19" fill="#222" textLength="265.4" lengthAdjust="spacingAndGlyphs">biopsy and flow cytometry</text>
<text x="992.3" y="184.0" font-size="19" fill="#222" textLength="164.7" lengthAdjust="spacingAndGlyphs">confirmed B-LBL</text>
<text x="900.6" y="471.8" font-size="19" fill="#222" textLength="148.6" lengthAdjust="spacingAndGlyphs">Showing B-LBL</text>
<text x="900.6" y="494.4" font-size="19" fill="#222" textLength="148.6" lengthAdjust="spacingAndGlyphs">involvement of</text>
<text x="897.7" y="517.2" font-size="19" fill="#222" textLength="154.3" lengthAdjust="spacingAndGlyphs">the right pleura</text>
<text x="888.2" y="540.0" font-size="19" fill="#222" textLength="172.8" lengthAdjust="spacingAndGlyphs">and mediastinum</text>
<text x="1194.3" y="455.0" font-size="19" fill="#222" textLength="283.0" lengthAdjust="spacingAndGlyphs">Completed 4 cycles of VOCP</text>
<text x="1181.0" y="477.7" font-size="19" fill="#222" textLength="309.7" lengthAdjust="spacingAndGlyphs">regimen chemotherapy, pleural</text>
<text x="1194.3" y="500.7" font-size="19" fill="#222" textLength="283.0" lengthAdjust="spacingAndGlyphs">effusion and pleural nodules</text>
<text x="1230.3" y="523.3" font-size="19" fill="#222" textLength="211.4" lengthAdjust="spacingAndGlyphs">significantly reduced.</text>
<text x="1174.7" y="545.7" font-size="19" fill="#222" textLength="322.0" lengthAdjust="spacingAndGlyphs">Preparation for autologous stem</text>
<text x="1241.0" y="568.3" font-size="19" fill="#222" textLength="189.7" lengthAdjust="spacingAndGlyphs">cell transplantation</text>
<text x="153.5" y="511" font-size="19" fill="#222" textLength="225.6" lengthAdjust="spacingAndGlyphs">drainage，Pleural fluid</text>
</g>
<g id="secB">
<text x="49" y="663" font-family="'Liberation Sans',sans-serif" font-size="30.5" font-weight="bold" fill="#000">B</text>
<rect x="225.6" y="676" width="197.6" height="195.7" fill="#fff" stroke="#333" stroke-width="1.3"/>
<line x1="224.2" y1="680" x2="224.2" y2="871.7" stroke="#333" stroke-width="1.8" stroke-dasharray="1.1 1.5" opacity="0.8"/>
<line x1="225.6" y1="873.1" x2="419.2" y2="873.1" stroke="#333" stroke-width="1.8" stroke-dasharray="1.1 1.5" opacity="0.8"/>
<line x1="221.1" y1="693.9" x2="225.6" y2="693.9" stroke="#333" stroke-width="1.3"/>
<text x="219.6" y="696.1" font-family="'Liberation Sans',sans-serif" font-size="6.02" font-weight="bold" fill="#505050" text-anchor="end">10<tspan dy="-2.5" font-size="3.7">5</tspan></text>
<line x1="221.1" y1="738.2" x2="225.6" y2="738.2" stroke="#333" stroke-width="1.3"/>
<text x="219.6" y="740.4" font-family="'Liberation Sans',sans-serif" font-size="6.02" font-weight="bold" fill="#505050" text-anchor="end">10<tspan dy="-2.5" font-size="3.7">4</tspan></text>
<line x1="221.1" y1="783.3" x2="225.6" y2="783.3" stroke="#333" stroke-width="1.3"/>
<text x="219.6" y="785.5" font-family="'Liberation Sans',sans-serif" font-size="6.02" font-weight="bold" fill="#505050" text-anchor="end">10<tspan dy="-2.5" font-size="3.7">3</tspan></text>
<line x1="221.1" y1="829.3" x2="225.6" y2="829.3" stroke="#333" stroke-width="1.3"/>
<text x="219.6" y="831.5" font-family="'Liberation Sans',sans-serif" font-size="6.02" font-weight="bold" fill="#505050" text-anchor="end">10<tspan dy="-2.5" font-size="3.7">2</tspan></text>
<line x1="221.1" y1="855.3" x2="225.6" y2="855.3" stroke="#333" stroke-width="1.3"/>
<text x="219.6" y="857.5" font-family="'Liberation Sans',sans-serif" font-size="6.02" font-weight="bold" fill="#505050" text-anchor="end">0</text>
<line x1="246.7" y1="871.7" x2="246.7" y2="876.2" stroke="#333" stroke-width="1.3"/>
<text x="246.7" y="884.6" font-family="'Liberation Sans',sans-serif" font-size="6.02" font-weight="bold" fill="#505050" text-anchor="middle">0</text>
<line x1="267" y1="871.7" x2="267" y2="876.2" stroke="#333" stroke-width="1.3"/>
<text x="267.0" y="884.6" font-family="'Liberation Sans',sans-serif" font-size="6.02" font-weight="bold" fill="#505050" text-anchor="middle">10<tspan dy="-2.5" font-size="3.7">2</tspan></text>
<line x1="314.5" y1="871.7" x2="314.5" y2="876.2" stroke="#333" stroke-width="1.3"/>
<text x="314.5" y="884.6" font-family="'Liberation Sans',sans-serif" font-size="6.02" font-weight="bold" fill="#505050" text-anchor="middle">10<tspan dy="-2.5" font-size="3.7">3</tspan></text>
<line x1="360.2" y1="871.7" x2="360.2" y2="876.2" stroke="#333" stroke-width="1.3"/>
<text x="360.2" y="884.6" font-family="'Liberation Sans',sans-serif" font-size="6.02" font-weight="bold" fill="#505050" text-anchor="middle">10<tspan dy="-2.5" font-size="3.7">4</tspan></text>
<line x1="403.5" y1="871.7" x2="403.5" y2="876.2" stroke="#333" stroke-width="1.3"/>
<text x="403.5" y="884.6" font-family="'Liberation Sans',sans-serif" font-size="6.02" font-weight="bold" fill="#505050" text-anchor="middle">10<tspan dy="-2.5" font-size="3.7">5</tspan></text>
<text x="252.2" y="670.0" font-family="'Liberation Sans',sans-serif" font-size="13" fill="#3c3c3c" stroke="#3c3c3c" stroke-width="0.3" textLength="142.5" lengthAdjust="spacingAndGlyphs">[B] CD34 APC / CD117 PE</text>
<text transform="translate(195.2 795.6) rotate(-90)" font-family="'Liberation Sans',sans-serif" font-size="9" fill="#3c3c3c" stroke="#3c3c3c" stroke-width="0.3" textLength="42.1" lengthAdjust="spacingAndGlyphs">CD117 PE</text>
<text x="301.4" y="902.4" font-family="'Liberation Sans',sans-serif" font-size="9.5" fill="#3c3c3c" stroke="#3c3c3c" stroke-width="0.3" textLength="43.8" lengthAdjust="spacingAndGlyphs">CD34 APC</text>
<g clip-path="url(#c225_676)" opacity="0.4"><ellipse cx="300" cy="838" rx="98" ry="38" fill="url(#g0)"/><ellipse cx="292" cy="833" rx="40" ry="20" fill="url(#g1)"/><ellipse cx="358" cy="841" rx="54" ry="45" fill="url(#g2)" transform="rotate(-30 358 841)"/></g>
<g filter="url(#f0)"><ellipse cx="300" cy="838" rx="98" ry="40" fill="url(#g3)"/><ellipse cx="292" cy="833" rx="42" ry="22" fill="url(#g4)"/><ellipse cx="358" cy="841" rx="52" ry="43" fill="url(#g5)" transform="rotate(-30 358 841)"/></g>
<g filter="url(#f1)"><ellipse cx="356" cy="843" rx="46" ry="38" fill="url(#g6)" transform="rotate(-30 356 843)"/><ellipse cx="371" cy="829" rx="32" ry="26.5" fill="url(#g6)" transform="rotate(-30 371 829)"/></g>
<rect x="225.6" y="676" width="197.6" height="195.7" fill="none" stroke="#333" stroke-width="1.3"/>
<rect x="474.5" y="669.6" width="195.6" height="229.0" fill="#fff" stroke="#444" stroke-width="1.6"/>
<rect x="475.3" y="670.4" width="194.0" height="16.2" fill="#cbcbcb"/>
<text x="503.4" y="682.6" font-family="'Liberation Sans',sans-serif" font-size="10.5" fill="#444" stroke="#444" stroke-width="0.3" font-weight="bold" textLength="22.8" lengthAdjust="spacingAndGlyphs">Gate</text>
<text x="537.8" y="682.6" font-family="'Liberation Sans',sans-serif" font-size="10.5" fill="#444" stroke="#444" stroke-width="0.3" font-weight="bold" textLength="40.1" lengthAdjust="spacingAndGlyphs">Number</text>
<text x="585.6" y="682.6" font-family="'Liberation Sans',sans-serif" font-size="10.5" fill="#444" stroke="#444" stroke-width="0.3" font-weight="bold" textLength="38.9" lengthAdjust="spacingAndGlyphs">%Gated</text>
<path d="M490.0 717.5V775.7M490.0 726.8H497.5M490.0 743.1H497.5M490.0 759.4H497.5M490.0 775.7H497.5" stroke="#c8d0d8" stroke-width="1" fill="none"/>
<rect x="482.3" y="688.5" width="11.6" height="11.6" fill="#7f7f7f" stroke="#333" stroke-width="1.5"/>
<text x="503.4" y="698.7" font-family="'Liberation Sans',sans-serif" font-size="10.5" fill="#444">All</text>
<text x="579.0" y="698.7" font-family="'Liberation Sans',sans-serif" font-size="10.5" fill="#444" text-anchor="end">35,307</text>
<text x="624.0" y="698.7" font-family="'Liberation Sans',sans-serif" font-size="10.5" fill="#444" text-anchor="end">100.00</text>
<rect x="482.3" y="704.8" width="11.6" height="11.6" fill="#7f7f7f" stroke="#333" stroke-width="1.5"/>
<text x="503.4" y="715.0" font-family="'Liberation Sans',sans-serif" font-size="10.5" fill="#444">B</text>
<text x="579.0" y="715.0" font-family="'Liberation Sans',sans-serif" font-size="10.5" fill="#444" text-anchor="end">28,876</text>
<text x="624.0" y="715.0" font-family="'Liberation Sans',sans-serif" font-size="10.5" fill="#444" text-anchor="end">97.85</text>
<rect x="498.3" y="721.1" width="11.6" height="11.6" fill="#3fe0e8" stroke="#333" stroke-width="1.5"/>
<text x="519.9" y="731.3" font-family="'Liberation Sans',sans-serif" font-size="10.5" fill="#444">F</text>
<text x="579.0" y="731.3" font-family="'Liberation Sans',sans-serif" font-size="10.5" fill="#444" text-anchor="end">135</text>
<text x="624.0" y="731.3" font-family="'Liberation Sans',sans-serif" font-size="10.5" fill="#444" text-anchor="end">0.47</text>
<rect x="498.3" y="737.4" width="11.6" height="11.6" fill="#e4a4e4" stroke="#333" stroke-width="1.5"/>
<text x="519.9" y="747.6" font-family="'Liberation Sans',sans-serif" font-size="10.5" fill="#444">H</text>
<text x="579.0" y="747.6" font-family="'Liberation Sans',sans-serif" font-size="10.5" fill="#444" text-anchor="end">0</text>
<text x="624.0" y="747.6" font-family="'Liberation Sans',sans-serif" font-size="10.5" fill="#444" text-anchor="end">0.00</text>
<rect x="498.3" y="753.7" width="11.6" height="11.6" fill="#22e022" stroke="#333" stroke-width="1.5"/>
<text x="519.9" y="763.9" font-family="'Liberation Sans',sans-serif" font-size="10.5" fill="#444">P1</text>
<text x="579.0" y="763.9" font-family="'Liberation Sans',sans-serif" font-size="10.5" fill="#444" text-anchor="end">505</text>
<text x="624.0" y="763.9" font-family="'Liberation Sans',sans-serif" font-size="10.5" fill="#444" text-anchor="end">1.75</text>
<rect x="498.3" y="770.0" width="11.6" height="11.6" fill="#f29030" stroke="#333" stroke-width="1.5"/>
<text x="519.9" y="780.2" font-family="'Liberation Sans',sans-serif" font-size="10.5" fill="#444">Z</text>
<text x="579.0" y="780.2" font-family="'Liberation Sans',sans-serif" font-size="10.5" fill="#444" text-anchor="end">8</text>
<text x="624.0" y="780.2" font-family="'Liberation Sans',sans-serif" font-size="10.5" fill="#444" text-anchor="end">0.03</text>
<rect x="235.9" y="951" width="191.5" height="190.3" fill="#fff" stroke="#333" stroke-width="1.3"/>
<line x1="234.5" y1="955" x2="234.5" y2="1141.3" stroke="#333" stroke-width="1.8" stroke-dasharray="1.1 1.5" opacity="0.8"/>
<line x1="235.9" y1="1142.7" x2="423.4" y2="1142.7" stroke="#333" stroke-width="1.8" stroke-dasharray="1.1 1.5" opacity="0.8"/>
<line x1="231.4" y1="968.9" x2="235.9" y2="968.9" stroke="#333" stroke-width="1.3"/>
<text x="229.9" y="971.4" font-family="'Liberation Sans',sans-serif" font-size="6.88" font-weight="bold" fill="#505050" text-anchor="end">10<tspan dy="-2.9" font-size="4.3">5</tspan></text>
<line x1="231.4" y1="1012" x2="235.9" y2="1012" stroke="#333" stroke-width="1.3"/>
<text x="229.9" y="1014.5" font-family="'Liberation Sans',sans-serif" font-size="6.88" font-weight="bold" fill="#505050" text-anchor="end">10<tspan dy="-2.9" font-size="4.3">4</tspan></text>
<line x1="231.4" y1="1054" x2="235.9" y2="1054" stroke="#333" stroke-width="1.3"/>
<text x="229.9" y="1056.5" font-family="'Liberation Sans',sans-serif" font-size="6.88" font-weight="bold" fill="#505050" text-anchor="end">10<tspan dy="-2.9" font-size="4.3">3</tspan></text>
<line x1="231.4" y1="1098.9" x2="235.9" y2="1098.9" stroke="#333" stroke-width="1.3"/>
<text x="229.9" y="1101.4" font-family="'Liberation Sans',sans-serif" font-size="6.88" font-weight="bold" fill="#505050" text-anchor="end">10<tspan dy="-2.9" font-size="4.3">2</tspan></text>
<line x1="231.4" y1="1126.8" x2="235.9" y2="1126.8" stroke="#333" stroke-width="1.3"/>
<text x="229.9" y="1129.3" font-family="'Liberation Sans',sans-serif" font-size="6.88" font-weight="bold" fill="#505050" text-anchor="end">0</text>
<line x1="256.7" y1="1141.3" x2="256.7" y2="1145.8" stroke="#333" stroke-width="1.3"/>
<text x="256.7" y="1154.5" font-family="'Liberation Sans',sans-serif" font-size="6.88" font-weight="bold" fill="#505050" text-anchor="middle">0</text>
<line x1="322.6" y1="1141.3" x2="322.6" y2="1145.8" stroke="#333" stroke-width="1.3"/>
<text x="322.6" y="1154.5" font-family="'Liberation Sans',sans-serif" font-size="6.88" font-weight="bold" fill="#505050" text-anchor="middle">10<tspan dy="-2.9" font-size="4.3">3</tspan></text>
<line x1="366.8" y1="1141.3" x2="366.8" y2="1145.8" stroke="#333" stroke-width="1.3"/>
<text x="366.8" y="1154.5" font-family="'Liberation Sans',sans-serif" font-size="6.88" font-weight="bold" fill="#505050" text-anchor="middle">10<tspan dy="-2.9" font-size="4.3">4</tspan></text>
<line x1="409.9" y1="1141.3" x2="409.9" y2="1145.8" stroke="#333" stroke-width="1.3"/>
<text x="409.9" y="1154.5" font-family="'Liberation Sans',sans-serif" font-size="6.88" font-weight="bold" fill="#505050" text-anchor="middle">10<tspan dy="-2.9" font-size="4.3">5</tspan></text>
<text x="256.2" y="944.0" font-family="'Liberation Sans',sans-serif" font-size="12.5" fill="#3c3c3c" stroke="#3c3c3c" stroke-width="0.3" textLength="149.1" lengthAdjust="spacingAndGlyphs">[B] cCD79a APC / TDT FITC</text>
<text transform="translate(204.1 1070.2) rotate(-90)" font-family="'Liberation Sans',sans-serif" font-size="12" fill="#3c3c3c" stroke="#3c3c3c" stroke-width="0.3" textLength="47.7" lengthAdjust="spacingAndGlyphs">TDT FITC</text>
<text x="298.1" y="1177.0" font-family="'Liberation Sans',sans-serif" font-size="12" fill="#3c3c3c" stroke="#3c3c3c" stroke-width="0.3" textLength="65.2" lengthAdjust="spacingAndGlyphs">cCD79a APC</text>
<g clip-path="url(#c235_951)" opacity="0.4"><ellipse cx="303" cy="1070" rx="80" ry="64" fill="url(#g7)"/><ellipse cx="320" cy="1050" rx="52" ry="44" fill="url(#g8)"/></g>
<g filter="url(#f2)"><ellipse cx="303" cy="1072" rx="82" ry="66" fill="url(#g9)"/><ellipse cx="316" cy="1054" rx="58" ry="48" fill="url(#g10)"/><ellipse cx="303" cy="1080" rx="17" ry="17" fill="url(#g11)"/></g>
<g filter="url(#f3)"><ellipse cx="321" cy="1049" rx="41" ry="34" fill="url(#g12)" transform="rotate(-12 321 1049)"/><ellipse cx="334.5" cy="1040.5" rx="28" ry="25.5" fill="url(#g12)"/></g>
<rect x="235.9" y="951" width="191.5" height="190.3" fill="none" stroke="#333" stroke-width="1.3"/>
<rect x="500.6" y="960.8" width="172.3" height="171.6" fill="#fff" stroke="#333" stroke-width="1.3"/>
<line x1="499.20000000000005" y1="964.8" x2="499.20000000000005" y2="1132.4" stroke="#333" stroke-width="1.8" stroke-dasharray="1.1 1.5" opacity="0.8"/>
<line x1="500.6" y1="1133.8000000000002" x2="668.9" y2="1133.8000000000002" stroke="#333" stroke-width="1.8" stroke-dasharray="1.1 1.5" opacity="0.8"/>
<line x1="496.1" y1="981.7" x2="500.6" y2="981.7" stroke="#333" stroke-width="1.3"/>
<text x="494.6" y="983.9" font-family="'Liberation Sans',sans-serif" font-size="6.02" font-weight="bold" fill="#505050" text-anchor="end">10<tspan dy="-2.5" font-size="3.7">5</tspan></text>
<line x1="496.1" y1="1029.5" x2="500.6" y2="1029.5" stroke="#333" stroke-width="1.3"/>
<text x="494.6" y="1031.7" font-family="'Liberation Sans',sans-serif" font-size="6.02" font-weight="bold" fill="#505050" text-anchor="end">10<tspan dy="-2.5" font-size="3.7">4</tspan></text>
<line x1="496.1" y1="1080.3" x2="500.6" y2="1080.3" stroke="#333" stroke-width="1.3"/>
<text x="494.6" y="1082.5" font-family="'Liberation Sans',sans-serif" font-size="6.02" font-weight="bold" fill="#505050" text-anchor="end">10<tspan dy="-2.5" font-size="3.7">3</tspan></text>
<line x1="496.1" y1="1125" x2="500.6" y2="1125" stroke="#333" stroke-width="1.3"/>
<text x="494.6" y="1127.2" font-family="'Liberation Sans',sans-serif" font-size="6.02" font-weight="bold" fill="#505050" text-anchor="end">0</text>
<line x1="514.5" y1="1132.4" x2="514.5" y2="1136.9" stroke="#333" stroke-width="1.3"/>
<text x="514.5" y="1145.3" font-family="'Liberation Sans',sans-serif" font-size="6.02" font-weight="bold" fill="#505050" text-anchor="middle">0</text>
<line x1="536" y1="1132.4" x2="536" y2="1136.9" stroke="#333" stroke-width="1.3"/>
<text x="536.0" y="1145.3" font-family="'Liberation Sans',sans-serif" font-size="6.02" font-weight="bold" fill="#505050" text-anchor="middle">10<tspan dy="-2.5" font-size="3.7">2</tspan></text>
<line x1="578.6" y1="1132.4" x2="578.6" y2="1136.9" stroke="#333" stroke-width="1.3"/>
<text x="578.6" y="1145.3" font-family="'Liberation Sans',sans-serif" font-size="6.02" font-weight="bold" fill="#505050" text-anchor="middle">10<tspan dy="-2.5" font-size="3.7">3</tspan></text>
<line x1="617.7" y1="1132.4" x2="617.7" y2="1136.9" stroke="#333" stroke-width="1.3"/>
<text x="617.7" y="1145.3" font-family="'Liberation Sans',sans-serif" font-size="6.02" font-weight="bold" fill="#505050" text-anchor="middle">10<tspan dy="-2.5" font-size="3.7">4</tspan></text>
<line x1="656.6" y1="1132.4" x2="656.6" y2="1136.9" stroke="#333" stroke-width="1.3"/>
<text x="656.6" y="1145.3" font-family="'Liberation Sans',sans-serif" font-size="6.02" font-weight="bold" fill="#505050" text-anchor="middle">10<tspan dy="-2.5" font-size="3.7">5</tspan></text>
<text x="504.8" y="953.8" font-family="'Liberation Sans',sans-serif" font-size="11.5" fill="#3c3c3c" stroke="#3c3c3c" stroke-width="0.3" textLength="161.2" lengthAdjust="spacingAndGlyphs">[B] CD19 PE-Cy7 / CD36+20 FITC</text>
<text transform="translate(470.3 1081.2) rotate(-90)" font-family="'Liberation Sans',sans-serif" font-size="11" fill="#3c3c3c" stroke="#3c3c3c" stroke-width="0.3" textLength="68.0" lengthAdjust="spacingAndGlyphs">CD36+20 FITC</text>
<text x="554.1" y="1164.1" font-family="'Liberation Sans',sans-serif" font-size="11.5" fill="#3c3c3c" stroke="#3c3c3c" stroke-width="0.3" textLength="63.4" lengthAdjust="spacingAndGlyphs">CD19 PE-Cy7</text>
<g clip-path="url(#c500_960)" opacity="0.4"><ellipse cx="583" cy="1108" rx="72" ry="24" fill="url(#g13)"/><ellipse cx="607" cy="1074" rx="24" ry="54" fill="url(#g14)"/></g>
<g filter="url(#f4)"><ellipse cx="583" cy="1108" rx="72" ry="24" fill="url(#g15)"/><ellipse cx="607" cy="1072" rx="26" ry="58" fill="url(#g16)"/><ellipse cx="571" cy="1110" rx="16" ry="9" fill="url(#g17)" transform="rotate(-20 571 1110)"/><ellipse cx="602" cy="1112" rx="33" ry="27" fill="url(#g18)"/></g>
<g filter="url(#f5)"><ellipse cx="608" cy="1074" rx="16" ry="44" fill="url(#g19)"/><ellipse cx="607.5" cy="1094" rx="17" ry="25" fill="url(#g20)"/><ellipse cx="601.5" cy="1113" rx="27" ry="23" fill="url(#g6)"/></g>
<rect x="500.6" y="960.8" width="172.3" height="171.6" fill="none" stroke="#333" stroke-width="1.3"/>
</g>
<g id="secC">
<text x="873.5" y="685" font-family="'Liberation Sans',sans-serif" font-size="30.5" font-weight="bold" fill="#000">C</text>
<text x="1060.0" y="664.0" font-family="'Liberation Sans',sans-serif" font-size="16" fill="#2a2a2a" stroke="#2a2a2a" stroke-width="0.3" textLength="232.7" lengthAdjust="spacingAndGlyphs">AL-CANTO-xin 4 - Plot Sheet 5</text>
<text x="1044.0" y="679.8" font-family="'Liberation Sans',sans-serif" font-size="12" fill="#333" stroke="#333" stroke-width="0.3" textLength="66.0" lengthAdjust="spacingAndGlyphs">Z250109004</text>
<text x="1110.5" y="679.5" font-family="'Liberation Sans',sans-serif" font-size="10" font-style="italic" font-weight="bold" fill="#777" textLength="58" lengthAdjust="spacingAndGlyphs">DCIIIIIZZEIIZZ</text>
<text x="1169.0" y="679.8" font-family="'Liberation Sans',sans-serif" font-size="12" fill="#333" stroke="#333" stroke-width="0.3" textLength="37.5" lengthAdjust="spacingAndGlyphs">Tuble1</text>
<text x="1258.2" y="679.6" font-family="'Liberation Sans',sans-serif" font-size="12" fill="#333" stroke="#333" stroke-width="0.3" textLength="55.8" lengthAdjust="spacingAndGlyphs">Z25010900</text>
<text x="1314.5" y="679.3" font-family="'Liberation Sans',sans-serif" font-size="10" font-style="italic" font-weight="bold" fill="#777" textLength="65.5" lengthAdjust="spacingAndGlyphs">4ZCIIIIZZZIZZZ</text>
<text x="1380.5" y="679.6" font-family="'Liberation Sans',sans-serif" font-size="12" fill="#333" stroke="#333" stroke-width="0.3" textLength="33.3" lengthAdjust="spacingAndGlyphs">Tuble1</text>
<rect x="1030.6" y="702.3" width="192.4" height="191.5" fill="#fff" stroke="#333" stroke-width="1.3"/>
<line x1="1029.1999999999998" y1="706.3" x2="1029.1999999999998" y2="893.8" stroke="#333" stroke-width="1.8" stroke-dasharray="1.1 1.5" opacity="0.8"/>
<line x1="1030.6" y1="895.1999999999999" x2="1219" y2="895.1999999999999" stroke="#333" stroke-width="1.8" stroke-dasharray="1.1 1.5" opacity="0.8"/>
<line x1="1026.1" y1="719.6" x2="1030.6" y2="719.6" stroke="#333" stroke-width="1.3"/>
<text x="1024.6" y="721.6" font-family="'Liberation Sans',sans-serif" font-size="5.59" font-weight="bold" fill="#505050" text-anchor="end">10<tspan dy="-2.3" font-size="3.5">5</tspan></text>
<line x1="1026.1" y1="762.6" x2="1030.6" y2="762.6" stroke="#333" stroke-width="1.3"/>
<text x="1024.6" y="764.6" font-family="'Liberation Sans',sans-serif" font-size="5.59" font-weight="bold" fill="#505050" text-anchor="end">10<tspan dy="-2.3" font-size="3.5">4</tspan></text>
<line x1="1026.1" y1="807" x2="1030.6" y2="807" stroke="#333" stroke-width="1.3"/>
<text x="1024.6" y="809.0" font-family="'Liberation Sans',sans-serif" font-size="5.59" font-weight="bold" fill="#505050" text-anchor="end">10<tspan dy="-2.3" font-size="3.5">3</tspan></text>
<line x1="1026.1" y1="853.3" x2="1030.6" y2="853.3" stroke="#333" stroke-width="1.3"/>
<text x="1024.6" y="855.3" font-family="'Liberation Sans',sans-serif" font-size="5.59" font-weight="bold" fill="#505050" text-anchor="end">10<tspan dy="-2.3" font-size="3.5">2</tspan></text>
<line x1="1026.1" y1="875" x2="1030.6" y2="875" stroke="#333" stroke-width="1.3"/>
<text x="1024.6" y="877.0" font-family="'Liberation Sans',sans-serif" font-size="5.59" font-weight="bold" fill="#505050" text-anchor="end">0</text>
<line x1="1058.7" y1="893.8" x2="1058.7" y2="898.3" stroke="#333" stroke-width="1.3"/>
<text x="1058.7" y="906.5" font-family="'Liberation Sans',sans-serif" font-size="5.59" font-weight="bold" fill="#505050" text-anchor="middle">10<tspan dy="-2.3" font-size="3.5">2</tspan></text>
<line x1="1106.8" y1="893.8" x2="1106.8" y2="898.3" stroke="#333" stroke-width="1.3"/>
<text x="1106.8" y="906.5" font-family="'Liberation Sans',sans-serif" font-size="5.59" font-weight="bold" fill="#505050" text-anchor="middle">10<tspan dy="-2.3" font-size="3.5">3</tspan></text>
<line x1="1153.4" y1="893.8" x2="1153.4" y2="898.3" stroke="#333" stroke-width="1.3"/>
<text x="1153.4" y="906.5" font-family="'Liberation Sans',sans-serif" font-size="5.59" font-weight="bold" fill="#505050" text-anchor="middle">10<tspan dy="-2.3" font-size="3.5">4</tspan></text>
<line x1="1201.4" y1="893.8" x2="1201.4" y2="898.3" stroke="#333" stroke-width="1.3"/>
<text x="1201.4" y="906.5" font-family="'Liberation Sans',sans-serif" font-size="5.59" font-weight="bold" fill="#505050" text-anchor="middle">10<tspan dy="-2.3" font-size="3.5">5</tspan></text>
<text x="1064.3" y="695.0" font-family="'Liberation Sans',sans-serif" font-size="12" fill="#3c3c3c" stroke="#3c3c3c" stroke-width="0.3" textLength="123.4" lengthAdjust="spacingAndGlyphs">[B] SSC-A / CD45 V500</text>
<text transform="translate(1000.1 821.4) rotate(-90)" font-family="'Liberation Sans',sans-serif" font-size="9.5" fill="#3c3c3c" stroke="#3c3c3c" stroke-width="0.3" textLength="46.9" lengthAdjust="spacingAndGlyphs">CD45 V500</text>
<text x="1114.0" y="924.7" font-family="'Liberation Sans',sans-serif" font-size="9" fill="#3c3c3c" stroke="#3c3c3c" stroke-width="0.3" textLength="24.6" lengthAdjust="spacingAndGlyphs">SSC-A</text>
<g clip-path="url(#c1030_702)" opacity="0.6"><ellipse cx="1112" cy="815" rx="40" ry="52" fill="url(#g21)" transform="rotate(35 1112 815)"/><ellipse cx="1085" cy="805" rx="16" ry="18" fill="url(#g22)"/><ellipse cx="1143" cy="781" rx="31" ry="41" fill="url(#g23)" transform="rotate(24 1143 781)"/><ellipse cx="1089" cy="834" rx="10" ry="23" fill="url(#g24)" transform="rotate(27 1089 834)"/><ellipse cx="1110" cy="798" rx="11" ry="24" fill="url(#g25)" transform="rotate(12 1110 798)"/><ellipse cx="1118.9" cy="760" rx="10" ry="14" fill="url(#g26)" transform="rotate(15 1118.9 760)"/><ellipse cx="1094" cy="765.5" rx="24" ry="15" fill="url(#g27)" transform="rotate(-27 1094 765.5)"/></g>
<g filter="url(#f6)"><ellipse cx="1114" cy="818" rx="36" ry="46" fill="url(#g28)" transform="rotate(35 1114 818)"/><ellipse cx="1143" cy="780" rx="31" ry="41" fill="url(#g29)" transform="rotate(24 1143 780)"/><ellipse cx="1109.6" cy="799" rx="10" ry="23" fill="url(#g30)" transform="rotate(12 1109.6 799)"/><ellipse cx="1089" cy="834" rx="9" ry="22" fill="url(#g31)" transform="rotate(27 1089 834)"/><ellipse cx="1118.9" cy="760" rx="9" ry="13" fill="url(#g32)" transform="rotate(15 1118.9 760)"/></g>
<g filter="url(#f7)"><ellipse cx="1141" cy="781" rx="24" ry="36" fill="url(#g33)" transform="rotate(24 1141 781)"/><ellipse cx="1094.3" cy="765.5" rx="22" ry="13.5" fill="url(#g34)" transform="rotate(-27 1094.3 765.5)"/></g>
<g filter="url(#f8)"><ellipse cx="1140.5" cy="774" rx="16" ry="25" fill="url(#g35)" transform="rotate(24 1140.5 774)"/><ellipse cx="1095" cy="765" rx="19" ry="10.5" fill="url(#g36)" transform="rotate(-27 1095 765)"/></g>
<rect x="1030.6" y="702.3" width="192.4" height="191.5" fill="none" stroke="#333" stroke-width="1.3"/>
<polygon points="1081.0,734.9 1107.6,733.7 1112.9,748.6 1110.6,771.9 1097.6,779.2 1081.0,781.9 1072.3,771.2 1071.6,751.9" fill="none" stroke="#222" stroke-width="1.5" stroke-linejoin="miter"/>
<polygon points="1116.5,732.2 1139.5,730.9 1118.2,773.9 1110.9,767.9 1112.9,748.6" fill="none" stroke="#222" stroke-width="1.5" stroke-linejoin="miter"/>
<polygon points="1139.5,733.3 1155.5,732.6 1166.8,774.6 1180.8,769.2 1173.5,807.2 1126.2,825.8 1116.9,813.2 1118.6,774.6" fill="none" stroke="#222" stroke-width="1.5" stroke-linejoin="miter"/>
<polygon points="1168.1,715.1 1186.3,718.6 1192.1,762.6 1166.8,774.6 1157.5,735.3" fill="none" stroke="#222" stroke-width="1.5" stroke-linejoin="miter"/>
<polygon points="1068.3,785.2 1097.6,780.6 1099.6,805.2 1095.6,809.2 1076.3,821.2" fill="none" stroke="#222" stroke-width="1.5" stroke-linejoin="miter"/>
<polygon points="1095.6,809.2 1105.6,817.8 1097.6,847.8 1081.6,867.7 1065.0,863.1 1076.3,821.2" fill="none" stroke="#222" stroke-width="1.5" stroke-linejoin="miter"/>
<circle cx="1170.2" cy="733.8" r="4.6" fill="#fff" fill-opacity="0.7" stroke="#777" stroke-width="0.8"/>
<text x="1170.2" y="735.6999999999999" font-family="'Liberation Sans',sans-serif" font-size="5.5" fill="#555" text-anchor="middle">H</text>
<circle cx="1086.7" cy="806.8" r="4.6" fill="#fff" fill-opacity="0.7" stroke="#777" stroke-width="0.8"/>
<text x="1086.7" y="808.6999999999999" font-family="'Liberation Sans',sans-serif" font-size="5.5" fill="#555" text-anchor="middle">G</text>
<circle cx="1080.3" cy="852.2" r="4.6" fill="#fff" fill-opacity="0.7" stroke="#777" stroke-width="0.8"/>
<text x="1080.3" y="854.1" font-family="'Liberation Sans',sans-serif" font-size="5.5" fill="#555" text-anchor="middle">Z</text>
<text x="1129.7" y="760.5" font-family="'Liberation Sans',sans-serif" font-size="6.5" fill="#f4f4f4" text-anchor="middle">F</text>
<rect x="1241.5" y="685.9" width="191.0" height="224.3" fill="#fff" stroke="#444" stroke-width="1.6"/>
<rect x="1242.3" y="686.6999999999999" width="189.4" height="15.7" fill="#cbcbcb"/>
<text x="1269.4" y="698.2" font-family="'Liberation Sans',sans-serif" font-size="10.5" fill="#444" stroke="#444" stroke-width="0.3" font-weight="bold" textLength="23.8" lengthAdjust="spacingAndGlyphs">Gate</text>
<text x="1303.7" y="698.2" font-family="'Liberation Sans',sans-serif" font-size="10.5" fill="#444" stroke="#444" stroke-width="0.3" font-weight="bold" textLength="38.9" lengthAdjust="spacingAndGlyphs">Number</text>
<text x="1350.2" y="698.2" font-family="'Liberation Sans',sans-serif" font-size="10.5" fill="#444" stroke="#444" stroke-width="0.3" font-weight="bold" textLength="37.3" lengthAdjust="spacingAndGlyphs">%Gated</text>
<path d="M1257.0 733.5V790.5M1257.0 742.5H1264.5M1257.0 758.5H1264.5M1257.0 774.5H1264.5M1257.0 790.5H1264.5" stroke="#c8d0d8" stroke-width="1" fill="none"/>
<rect x="1249.3" y="704.8" width="11.6" height="11.6" fill="#7f7f7f" stroke="#333" stroke-width="1.5"/>
<text x="1269.2" y="715.0" font-family="'Liberation Sans',sans-serif" font-size="10.5" fill="#444">All</text>
<text x="1343.7" y="715.0" font-family="'Liberation Sans',sans-serif" font-size="10.5" fill="#444" text-anchor="end">41,311</text>
<text x="1387.5" y="715.0" font-family="'Liberation Sans',sans-serif" font-size="10.5" fill="#444" text-anchor="end">100.00</text>
<rect x="1249.3" y="720.8" width="11.6" height="11.6" fill="#7f7f7f" stroke="#333" stroke-width="1.5"/>
<text x="1269.2" y="731.0" font-family="'Liberation Sans',sans-serif" font-size="10.5" fill="#444">B</text>
<text x="1343.7" y="731.0" font-family="'Liberation Sans',sans-serif" font-size="10.5" fill="#444" text-anchor="end">25,333</text>
<text x="1387.5" y="731.0" font-family="'Liberation Sans',sans-serif" font-size="10.5" fill="#444" text-anchor="end">92.19</text>
<rect x="1265.3" y="736.8" width="11.6" height="11.6" fill="#3fe0e8" stroke="#333" stroke-width="1.5"/>
<text x="1286.2" y="747.0" font-family="'Liberation Sans',sans-serif" font-size="10.5" fill="#444">F</text>
<text x="1343.7" y="747.0" font-family="'Liberation Sans',sans-serif" font-size="10.5" fill="#444" text-anchor="end">14,544</text>
<text x="1387.5" y="747.0" font-family="'Liberation Sans',sans-serif" font-size="10.5" fill="#444" text-anchor="end">57.41</text>
<rect x="1265.3" y="752.8" width="11.6" height="11.6" fill="#e4a4e4" stroke="#333" stroke-width="1.5"/>
<text x="1286.2" y="763.0" font-family="'Liberation Sans',sans-serif" font-size="10.5" fill="#444">H</text>
<text x="1343.7" y="763.0" font-family="'Liberation Sans',sans-serif" font-size="10.5" fill="#444" text-anchor="end">21</text>
<text x="1387.5" y="763.0" font-family="'Liberation Sans',sans-serif" font-size="10.5" fill="#444" text-anchor="end">0.08</text>
<rect x="1265.3" y="768.8" width="11.6" height="11.6" fill="#22e022" stroke="#333" stroke-width="1.5"/>
<text x="1286.2" y="779.0" font-family="'Liberation Sans',sans-serif" font-size="10.5" fill="#444">P1</text>
<text x="1343.7" y="779.0" font-family="'Liberation Sans',sans-serif" font-size="10.5" fill="#444" text-anchor="end">7,288</text>
<text x="1387.5" y="779.0" font-family="'Liberation Sans',sans-serif" font-size="10.5" fill="#444" text-anchor="end">28.77</text>
<rect x="1265.3" y="784.8" width="11.6" height="11.6" fill="#f29030" stroke="#333" stroke-width="1.5"/>
<text x="1286.2" y="795.0" font-family="'Liberation Sans',sans-serif" font-size="10.5" fill="#444">Z</text>
<text x="1343.7" y="795.0" font-family="'Liberation Sans',sans-serif" font-size="10.5" fill="#444" text-anchor="end">1,486</text>
<text x="1387.5" y="795.0" font-family="'Liberation Sans',sans-serif" font-size="10.5" fill="#444" text-anchor="end">5.87</text>
<rect x="1033.9" y="963.3" width="192.4" height="191.5" fill="#fff" stroke="#333" stroke-width="1.3"/>
<line x1="1032.5" y1="967.3" x2="1032.5" y2="1154.8" stroke="#333" stroke-width="1.8" stroke-dasharray="1.1 1.5" opacity="0.8"/>
<line x1="1033.9" y1="1156.2" x2="1222.3" y2="1156.2" stroke="#333" stroke-width="1.8" stroke-dasharray="1.1 1.5" opacity="0.8"/>
<line x1="1029.4" y1="980.9" x2="1033.9" y2="980.9" stroke="#333" stroke-width="1.3"/>
<text x="1027.9" y="982.9" font-family="'Liberation Sans',sans-serif" font-size="5.59" font-weight="bold" fill="#505050" text-anchor="end">10<tspan dy="-2.3" font-size="3.5">5</tspan></text>
<line x1="1029.4" y1="1023.5" x2="1033.9" y2="1023.5" stroke="#333" stroke-width="1.3"/>
<text x="1027.9" y="1025.5" font-family="'Liberation Sans',sans-serif" font-size="5.59" font-weight="bold" fill="#505050" text-anchor="end">10<tspan dy="-2.3" font-size="3.5">4</tspan></text>
<line x1="1029.4" y1="1067.6" x2="1033.9" y2="1067.6" stroke="#333" stroke-width="1.3"/>
<text x="1027.9" y="1069.6" font-family="'Liberation Sans',sans-serif" font-size="5.59" font-weight="bold" fill="#505050" text-anchor="end">10<tspan dy="-2.3" font-size="3.5">3</tspan></text>
<line x1="1029.4" y1="1112.9" x2="1033.9" y2="1112.9" stroke="#333" stroke-width="1.3"/>
<text x="1027.9" y="1114.9" font-family="'Liberation Sans',sans-serif" font-size="5.59" font-weight="bold" fill="#505050" text-anchor="end">10<tspan dy="-2.3" font-size="3.5">2</tspan></text>
<line x1="1029.4" y1="1138.7" x2="1033.9" y2="1138.7" stroke="#333" stroke-width="1.3"/>
<text x="1027.9" y="1140.7" font-family="'Liberation Sans',sans-serif" font-size="5.59" font-weight="bold" fill="#505050" text-anchor="end">0</text>
<line x1="1054.7" y1="1154.8" x2="1054.7" y2="1159.3" stroke="#333" stroke-width="1.3"/>
<text x="1054.7" y="1167.5" font-family="'Liberation Sans',sans-serif" font-size="5.59" font-weight="bold" fill="#505050" text-anchor="middle">0</text>
<line x1="1073.9" y1="1154.8" x2="1073.9" y2="1159.3" stroke="#333" stroke-width="1.3"/>
<text x="1073.9" y="1167.5" font-family="'Liberation Sans',sans-serif" font-size="5.59" font-weight="bold" fill="#505050" text-anchor="middle">10<tspan dy="-2.3" font-size="3.5">2</tspan></text>
<line x1="1121.5" y1="1154.8" x2="1121.5" y2="1159.3" stroke="#333" stroke-width="1.3"/>
<text x="1121.5" y="1167.5" font-family="'Liberation Sans',sans-serif" font-size="5.59" font-weight="bold" fill="#505050" text-anchor="middle">10<tspan dy="-2.3" font-size="3.5">3</tspan></text>
<line x1="1165.6" y1="1154.8" x2="1165.6" y2="1159.3" stroke="#333" stroke-width="1.3"/>
<text x="1165.6" y="1167.5" font-family="'Liberation Sans',sans-serif" font-size="5.59" font-weight="bold" fill="#505050" text-anchor="middle">10<tspan dy="-2.3" font-size="3.5">4</tspan></text>
<line x1="1208.2" y1="1154.8" x2="1208.2" y2="1159.3" stroke="#333" stroke-width="1.3"/>
<text x="1208.2" y="1167.5" font-family="'Liberation Sans',sans-serif" font-size="5.59" font-weight="bold" fill="#505050" text-anchor="middle">10<tspan dy="-2.3" font-size="3.5">5</tspan></text>
<text x="1060.4" y="956.0" font-family="'Liberation Sans',sans-serif" font-size="12.5" fill="#3c3c3c" stroke="#3c3c3c" stroke-width="0.3" textLength="138.7" lengthAdjust="spacingAndGlyphs">[B] CD34 APC / CD117 PE</text>
<text transform="translate(1003.8 1080.5) rotate(-90)" font-family="'Liberation Sans',sans-serif" font-size="9.5" fill="#3c3c3c" stroke="#3c3c3c" stroke-width="0.3" textLength="40.7" lengthAdjust="spacingAndGlyphs">CD117 PE</text>
<text x="1108.3" y="1185.1" font-family="'Liberation Sans',sans-serif" font-size="9.5" fill="#3c3c3c" stroke="#3c3c3c" stroke-width="0.3" textLength="42.6" lengthAdjust="spacingAndGlyphs">CD34 APC</text>
<g clip-path="url(#c1033_963)" opacity="0.6"><ellipse cx="1110" cy="1088" rx="80" ry="68" fill="url(#g37)" transform="rotate(-35 1110 1088)"/><ellipse cx="1088" cy="1127" rx="72" ry="38" fill="url(#g38)"/><ellipse cx="1100" cy="1088" rx="34" ry="50" fill="url(#g39)" transform="rotate(18 1100 1088)"/><ellipse cx="1058" cy="1118" rx="31" ry="30" fill="url(#g40)"/><ellipse cx="1131" cy="1097.5" rx="20" ry="19" fill="url(#g41)"/></g>
<g filter="url(#f9)"><ellipse cx="1112" cy="1086" rx="80" ry="68" fill="url(#g42)" transform="rotate(-35 1112 1086)"/><ellipse cx="1190" cy="1115" rx="26" ry="30" fill="url(#g43)"/><ellipse cx="1088" cy="1127" rx="68" ry="35" fill="url(#g44)"/><ellipse cx="1100" cy="1088" rx="33" ry="47" fill="url(#g45)" transform="rotate(20 1100 1088)"/></g>
<g filter="url(#f10)"><ellipse cx="1106" cy="1129" rx="19" ry="12" fill="url(#g46)"/><ellipse cx="1058" cy="1118" rx="27" ry="26" fill="url(#g47)"/><ellipse cx="1100.5" cy="1090" rx="28" ry="44" fill="url(#g48)" transform="rotate(18 1100.5 1090)"/></g>
<g filter="url(#f11)"><ellipse cx="1131" cy="1097.5" rx="19" ry="18" fill="url(#g49)"/></g>
<g filter="url(#f12)"><ellipse cx="1057.5" cy="1118" rx="18.5" ry="18" fill="url(#g50)"/><ellipse cx="1101" cy="1086.5" rx="20.5" ry="34" fill="url(#g51)" transform="rotate(18 1101 1086.5)"/></g>
<g fill="#c8201c"><circle cx="1179.8" cy="1019.4" r="1.15"/><circle cx="1159.4" cy="1030.5" r="1.15"/><circle cx="1185.2" cy="1055.9" r="1.15"/><circle cx="1167.6" cy="1019.7" r="1.15"/><circle cx="1156.2" cy="1046.3" r="1.15"/><circle cx="1180.4" cy="1048.5" r="1.15"/><circle cx="1156.3" cy="1051.0" r="1.15"/><circle cx="1189.1" cy="1057.1" r="1.15"/><circle cx="1163.1" cy="1026.7" r="1.15"/><circle cx="1197.6" cy="1036.8" r="1.15"/><circle cx="1191.5" cy="1051.8" r="1.15"/><circle cx="1189.2" cy="1058.9" r="1.15"/><circle cx="1174.0" cy="1072.5" r="1.15"/><circle cx="1165.2" cy="1048.9" r="1.15"/><circle cx="1190.4" cy="1052.6" r="1.15"/><circle cx="1192.3" cy="1050.3" r="1.15"/><circle cx="1183.5" cy="1020.6" r="1.15"/><circle cx="1156.8" cy="1034.2" r="1.15"/><circle cx="1149.7" cy="1033.6" r="1.15"/><circle cx="1179.6" cy="1038.4" r="1.15"/><circle cx="1164.7" cy="1029.7" r="1.15"/><circle cx="1159.0" cy="1070.5" r="1.15"/><circle cx="1180.3" cy="1052.1" r="1.15"/><circle cx="1153.6" cy="1058.8" r="1.15"/><circle cx="1153.2" cy="1039.2" r="1.15"/><circle cx="1199.4" cy="1053.8" r="1.15"/><circle cx="1175.2" cy="1056.3" r="1.15"/><circle cx="1191.2" cy="1061.5" r="1.15"/><circle cx="1161.7" cy="1033.0" r="1.15"/><circle cx="1193.1" cy="1035.6" r="1.15"/><circle cx="1180.7" cy="1040.2" r="1.15"/><circle cx="1195.2" cy="1043.7" r="1.15"/><circle cx="1158.8" cy="1031.8" r="1.15"/><circle cx="1175.4" cy="1032.7" r="1.15"/><circle cx="1176.7" cy="1068.3" r="1.15"/><circle cx="1166.4" cy="1030.3" r="1.15"/><circle cx="1199.9" cy="1046.5" r="1.15"/><circle cx="1150.1" cy="1053.1" r="1.15"/><circle cx="1188.4" cy="1041.6" r="1.15"/><circle cx="1147.6" cy="1039.4" r="1.15"/><circle cx="1199.8" cy="1047.6" r="1.15"/><circle cx="1182.2" cy="1048.1" r="1.15"/><circle cx="1158.9" cy="1053.9" r="1.15"/><circle cx="1150.2" cy="1042.3" r="1.15"/><circle cx="1169.4" cy="1071.4" r="1.15"/><circle cx="1193.0" cy="1032.7" r="1.15"/><circle cx="1172.0" cy="1028.0" r="1.15"/><circle cx="1160.7" cy="1053.8" r="1.15"/><circle cx="1178.1" cy="1026.6" r="1.15"/><circle cx="1186.7" cy="1048.2" r="1.15"/><circle cx="1187.6" cy="1047.7" r="1.15"/><circle cx="1144.0" cy="1036.2" r="1.15"/><circle cx="1161.2" cy="1021.2" r="1.15"/><circle cx="1148.8" cy="1045.2" r="1.15"/><circle cx="1186.9" cy="1025.2" r="1.15"/><circle cx="1170.6" cy="1048.8" r="1.15"/><circle cx="1158.8" cy="1066.9" r="1.15"/><circle cx="1167.7" cy="1029.9" r="1.15"/><circle cx="1174.2" cy="1058.9" r="1.15"/><circle cx="1155.3" cy="1035.5" r="1.15"/><circle cx="1199.7" cy="1054.4" r="1.15"/><circle cx="1168.5" cy="1047.0" r="1.15"/><circle cx="1150.8" cy="1030.6" r="1.15"/><circle cx="1162.9" cy="1050.9" r="1.15"/><circle cx="1156.9" cy="1030.3" r="1.15"/><circle cx="1148.0" cy="1053.3" r="1.15"/><circle cx="1156.8" cy="1068.7" r="1.15"/><circle cx="1157.3" cy="1055.5" r="1.15"/><circle cx="1156.0" cy="1025.4" r="1.15"/><circle cx="1196.4" cy="1050.0" r="1.15"/><circle cx="1170.5" cy="1061.9" r="1.15"/><circle cx="1189.2" cy="1028.7" r="1.15"/><circle cx="1175.5" cy="1014" r="1.15"/><circle cx="1204" cy="1067" r="1.15"/></g>
<rect x="1033.9" y="963.3" width="192.4" height="191.5" fill="none" stroke="#333" stroke-width="1.3"/>
<rect x="1290" y="963.3" width="191.7" height="191.9" fill="#fff" stroke="#333" stroke-width="1.3"/>
<line x1="1288.6" y1="967.3" x2="1288.6" y2="1155.2" stroke="#333" stroke-width="1.8" stroke-dasharray="1.1 1.5" opacity="0.8"/>
<line x1="1290" y1="1156.6000000000001" x2="1477.7" y2="1156.6000000000001" stroke="#333" stroke-width="1.8" stroke-dasharray="1.1 1.5" opacity="0.8"/>
<line x1="1285.5" y1="980.9" x2="1290" y2="980.9" stroke="#333" stroke-width="1.3"/>
<text x="1284.0" y="983.4" font-family="'Liberation Sans',sans-serif" font-size="6.88" font-weight="bold" fill="#505050" text-anchor="end">10<tspan dy="-2.9" font-size="4.3">5</tspan></text>
<line x1="1285.5" y1="1023.5" x2="1290" y2="1023.5" stroke="#333" stroke-width="1.3"/>
<text x="1284.0" y="1026.0" font-family="'Liberation Sans',sans-serif" font-size="6.88" font-weight="bold" fill="#505050" text-anchor="end">10<tspan dy="-2.9" font-size="4.3">4</tspan></text>
<line x1="1285.5" y1="1067.6" x2="1290" y2="1067.6" stroke="#333" stroke-width="1.3"/>
<text x="1284.0" y="1070.1" font-family="'Liberation Sans',sans-serif" font-size="6.88" font-weight="bold" fill="#505050" text-anchor="end">10<tspan dy="-2.9" font-size="4.3">3</tspan></text>
<line x1="1285.5" y1="1114.5" x2="1290" y2="1114.5" stroke="#333" stroke-width="1.3"/>
<text x="1284.0" y="1117.0" font-family="'Liberation Sans',sans-serif" font-size="6.88" font-weight="bold" fill="#505050" text-anchor="end">10<tspan dy="-2.9" font-size="4.3">2</tspan></text>
<line x1="1285.5" y1="1136.4" x2="1290" y2="1136.4" stroke="#333" stroke-width="1.3"/>
<text x="1284.0" y="1138.9" font-family="'Liberation Sans',sans-serif" font-size="6.88" font-weight="bold" fill="#505050" text-anchor="end">0</text>
<line x1="1319.4" y1="1155.2" x2="1319.4" y2="1159.7" stroke="#333" stroke-width="1.3"/>
<text x="1319.4" y="1168.4" font-family="'Liberation Sans',sans-serif" font-size="6.88" font-weight="bold" fill="#505050" text-anchor="middle">10<tspan dy="-2.9" font-size="4.3">2</tspan></text>
<line x1="1366.5" y1="1155.2" x2="1366.5" y2="1159.7" stroke="#333" stroke-width="1.3"/>
<text x="1366.5" y="1168.4" font-family="'Liberation Sans',sans-serif" font-size="6.88" font-weight="bold" fill="#505050" text-anchor="middle">10<tspan dy="-2.9" font-size="4.3">3</tspan></text>
<line x1="1413.3" y1="1155.2" x2="1413.3" y2="1159.7" stroke="#333" stroke-width="1.3"/>
<text x="1413.3" y="1168.4" font-family="'Liberation Sans',sans-serif" font-size="6.88" font-weight="bold" fill="#505050" text-anchor="middle">10<tspan dy="-2.9" font-size="4.3">4</tspan></text>
<line x1="1460.9" y1="1155.2" x2="1460.9" y2="1159.7" stroke="#333" stroke-width="1.3"/>
<text x="1460.9" y="1168.4" font-family="'Liberation Sans',sans-serif" font-size="6.88" font-weight="bold" fill="#505050" text-anchor="middle">10<tspan dy="-2.9" font-size="4.3">5</tspan></text>
<text x="1312.6" y="956.0" font-family="'Liberation Sans',sans-serif" font-size="12.5" fill="#3c3c3c" stroke="#3c3c3c" stroke-width="0.3" textLength="145.6" lengthAdjust="spacingAndGlyphs">[B] CD117 PE / CD45 V500</text>
<text transform="translate(1257.1 1088.4) rotate(-90)" font-family="'Liberation Sans',sans-serif" font-size="12.5" fill="#3c3c3c" stroke="#3c3c3c" stroke-width="0.3" textLength="57.7" lengthAdjust="spacingAndGlyphs">CD45 V500</text>
<text x="1360.1" y="1190.9" font-family="'Liberation Sans',sans-serif" font-size="12.5" fill="#3c3c3c" stroke="#3c3c3c" stroke-width="0.3" textLength="51.0" lengthAdjust="spacingAndGlyphs">CD117 PE</text>
<g clip-path="url(#c1290_963)" opacity="0.6"><ellipse cx="1311" cy="1092" rx="26" ry="40" fill="url(#g52)" transform="rotate(15 1311 1092)"/><ellipse cx="1330" cy="1045" rx="50" ry="40" fill="url(#g53)"/><ellipse cx="1326" cy="1050" rx="28" ry="29" fill="url(#g54)" transform="rotate(25 1326 1050)"/><ellipse cx="1330" cy="1027" rx="54" ry="16" fill="url(#g55)" transform="rotate(-5 1330 1027)"/></g>
<g filter="url(#f13)"><ellipse cx="1311" cy="1092" rx="24" ry="38" fill="url(#g56)" transform="rotate(15 1311 1092)"/><ellipse cx="1332" cy="1045" rx="52" ry="42" fill="url(#g57)"/><ellipse cx="1387" cy="1064" rx="29" ry="17" fill="url(#g58)"/><ellipse cx="1326" cy="1050" rx="26" ry="27" fill="url(#g59)" transform="rotate(25 1326 1050)"/><ellipse cx="1332" cy="1026" rx="46" ry="16" fill="url(#g60)" transform="rotate(-5 1332 1026)"/></g>
<g filter="url(#f14)"><ellipse cx="1350" cy="1028" rx="28" ry="14" fill="url(#g61)" transform="rotate(-6 1350 1028)"/><ellipse cx="1308" cy="1026.5" rx="34" ry="14" fill="url(#g62)" transform="rotate(-5 1308 1026.5)"/><ellipse cx="1337" cy="1020.5" rx="12" ry="6.5" fill="url(#g63)"/></g>
<g filter="url(#f15)"><ellipse cx="1353" cy="1028.5" rx="19" ry="8.5" fill="url(#g64)" transform="rotate(-6 1353 1028.5)"/><ellipse cx="1310" cy="1026.5" rx="25" ry="8.5" fill="url(#g65)" transform="rotate(-5 1310 1026.5)"/></g>
<rect x="1290" y="963.3" width="191.7" height="191.9" fill="none" stroke="#333" stroke-width="1.3"/>
<polygon points="1402.2,1024.0 1434.8,1026.6 1436.8,1060.6 1432.8,1083.9 1412.8,1091.2 1370.9,1091.2 1354.9,1080.5 1356.2,1050.6 1370.2,1035.9" fill="none" stroke="#222" stroke-width="1.8" stroke-linejoin="miter"/>
<rect x="1395.8" y="1057" width="17.4" height="19.4" rx="3.5" fill="#fff" fill-opacity="0.85" stroke="#999" stroke-width="0.8"/>
<text x="1404.4" y="1071.8" font-family="'Liberation Sans',sans-serif" font-size="11.5" fill="#222" text-anchor="middle" textLength="12.8" lengthAdjust="spacingAndGlyphs">AE</text>
</g>
</svg>
</body></html>
